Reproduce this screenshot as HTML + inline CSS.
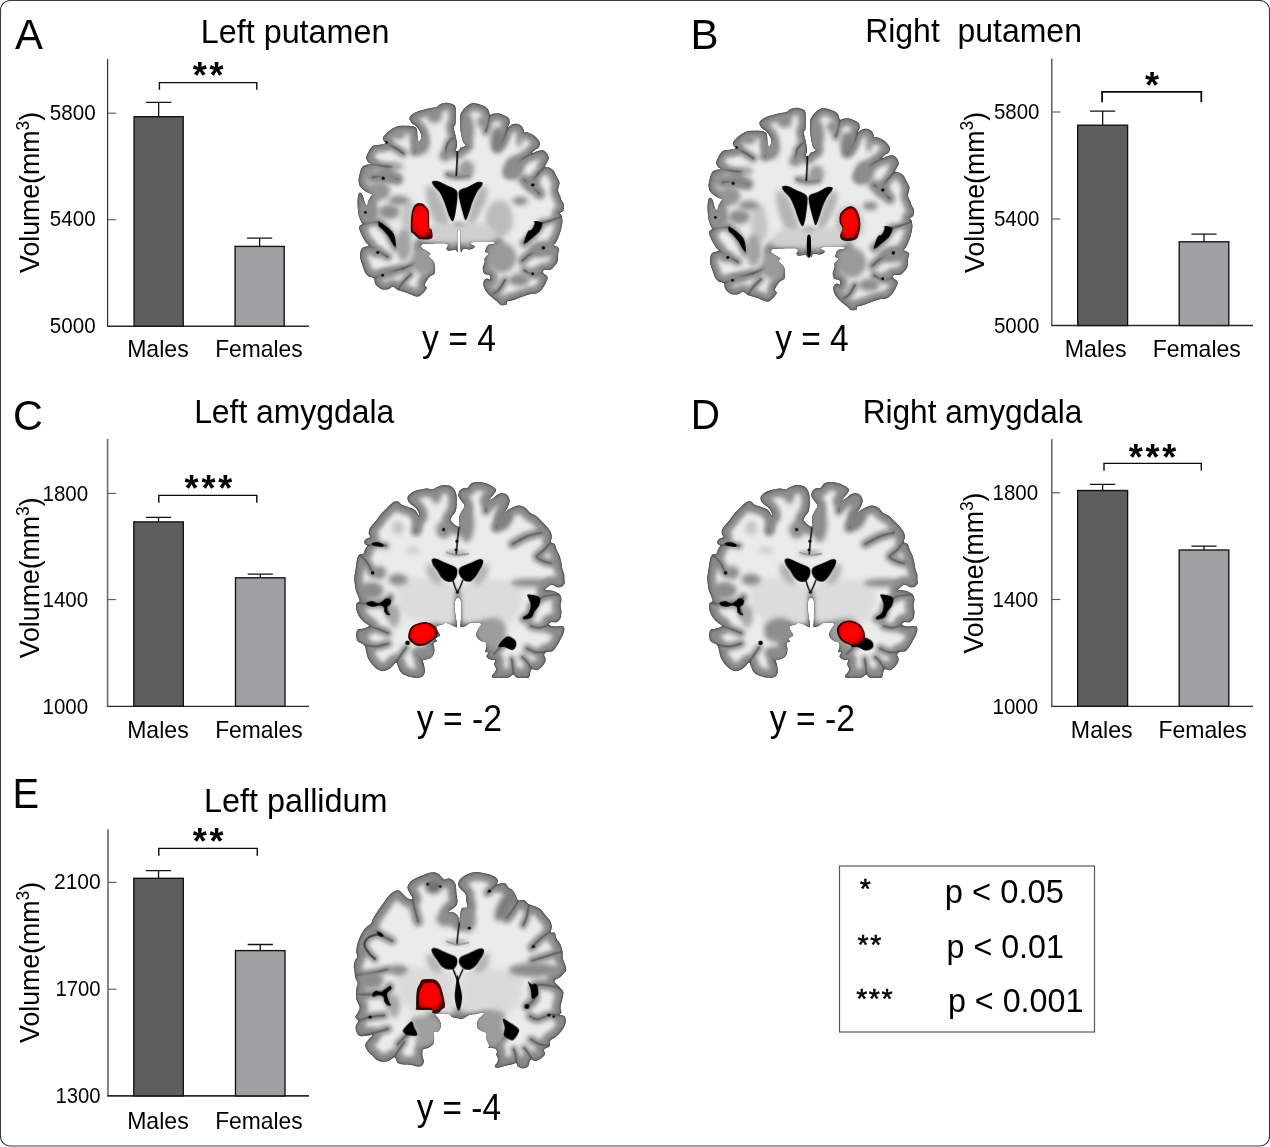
<!DOCTYPE html>
<html><head><meta charset="utf-8"><title>Figure</title>
<style>
html,body{margin:0;padding:0;background:#fff;}
svg{display:block;will-change:transform;}
text{font-family:"Liberation Sans",sans-serif;fill:#000;}
</style></head><body>
<svg width="1270" height="1147" viewBox="0 0 1270 1147">
<rect x="0.5" y="0.5" width="1269" height="1145.5" rx="9.5" ry="9.5" fill="#fff" stroke="#3c3c3c" stroke-width="1.1"/><rect x="10" y="1145.2" width="1251" height="1.8" fill="#9f9f9f"/>
<defs>
<filter id="bl0" x="-10%" y="-10%" width="120%" height="120%"><feGaussianBlur stdDeviation="2.2"/></filter>
<filter id="bl0r" x="-10%" y="-10%" width="120%" height="120%"><feGaussianBlur stdDeviation="3"/></filter>
<filter id="bl1" x="-10%" y="-10%" width="120%" height="120%"><feGaussianBlur stdDeviation="3.5"/></filter>
<filter id="bl2" x="-10%" y="-10%" width="120%" height="120%"><feGaussianBlur stdDeviation="11"/></filter>
<filter id="bl2a" x="-10%" y="-10%" width="120%" height="120%"><feGaussianBlur stdDeviation="6"/></filter>
<filter id="bl3" x="-40%" y="-40%" width="180%" height="180%"><feGaussianBlur stdDeviation="13"/></filter>
<radialGradient id="redg" cx="48%" cy="45%" r="60%"><stop offset="0" stop-color="#ff0000"/><stop offset="0.6" stop-color="#f80000"/><stop offset="0.85" stop-color="#d40000"/><stop offset="1" stop-color="#8a0000"/></radialGradient>
</defs>
<g transform="translate(340 90) scale(0.19185)">
<defs>
<path id="oA" d="M604.0 316.0C602.3 311.0 610.3 299.3 610.0 286.0C609.7 272.7 605.0 251.8 602.0 236.0C599.0 220.2 592.0 201.0 592.0 191.0C592.0 181.0 600.3 192.7 602.0 176.0C603.7 159.3 605.7 108.3 602.0 91.0C598.3 73.7 588.3 76.2 580.0 72.0C571.7 67.8 561.7 65.7 552.0 66.0C542.3 66.3 530.3 70.2 522.0 74.0C513.7 77.8 512.0 85.3 502.0 89.0C492.0 92.7 477.0 92.7 462.0 96.0C447.0 99.3 426.2 104.0 412.0 109.0C397.8 114.0 385.3 119.8 377.0 126.0C368.7 132.2 362.8 138.8 362.0 146.0C361.2 153.2 366.2 161.8 372.0 169.0C377.8 176.2 390.0 182.0 397.0 189.0C404.0 196.0 409.5 203.2 414.0 211.0C418.5 218.8 423.0 227.7 424.0 236.0C425.0 244.3 422.3 255.2 420.0 261.0C417.7 266.8 412.7 273.5 410.0 271.0C407.3 268.5 405.3 255.2 404.0 246.0C402.7 236.8 403.3 224.2 402.0 216.0C400.7 207.8 401.0 201.7 396.0 197.0C391.0 192.3 382.7 189.8 372.0 188.0C361.3 186.2 345.3 185.5 332.0 186.0C318.7 186.5 305.3 186.0 292.0 191.0C278.7 196.0 263.2 206.8 252.0 216.0C240.8 225.2 228.7 237.3 225.0 246.0C221.3 254.7 227.2 263.0 230.0 268.0C232.8 273.0 244.2 273.3 242.0 276.0C239.8 278.7 227.8 281.8 217.0 284.0C206.2 286.2 186.5 285.7 177.0 289.0C167.5 292.3 165.8 296.2 160.0 304.0C154.2 311.8 145.8 327.3 142.0 336.0C138.2 344.7 136.2 349.3 137.0 356.0C137.8 362.7 143.2 371.3 147.0 376.0C150.8 380.7 163.3 381.0 160.0 384.0C156.7 387.0 135.0 389.8 127.0 394.0C119.0 398.2 116.2 401.2 112.0 409.0C107.8 416.8 104.5 429.8 102.0 441.0C99.5 452.2 96.2 465.2 97.0 476.0C97.8 486.8 100.3 496.8 107.0 506.0C113.7 515.2 127.0 524.7 137.0 531.0C147.0 537.3 163.2 539.8 167.0 544.0C170.8 548.2 163.3 549.8 160.0 556.0C156.7 562.2 150.0 573.2 147.0 581.0C144.0 588.8 144.8 601.5 142.0 603.0C139.2 604.5 133.3 597.2 130.0 590.0C126.7 582.8 125.0 568.3 122.0 560.0C119.0 551.7 115.7 543.7 112.0 540.0C108.3 536.3 103.2 534.7 100.0 538.0C96.8 541.3 94.3 549.7 93.0 560.0C91.7 570.3 91.3 585.0 92.0 600.0C92.7 615.0 93.7 635.0 97.0 650.0C100.3 665.0 108.2 682.2 112.0 690.0C115.8 697.8 122.0 693.2 120.0 697.0C118.0 700.8 102.2 705.3 100.0 713.0C97.8 720.7 103.3 733.0 107.0 743.0C110.7 753.0 117.0 763.8 122.0 773.0C127.0 782.2 132.3 791.5 137.0 798.0C141.7 804.5 153.3 807.8 150.0 812.0C146.7 816.2 124.2 817.8 117.0 823.0C109.8 828.2 109.0 834.7 107.0 843.0C105.0 851.3 103.3 861.3 105.0 873.0C106.7 884.7 112.5 899.7 117.0 913.0C121.5 926.3 126.2 943.0 132.0 953.0C137.8 963.0 144.5 968.3 152.0 973.0C159.5 977.7 171.5 974.3 177.0 981.0C182.5 987.7 178.3 1003.5 185.0 1013.0C191.7 1022.5 205.8 1033.8 217.0 1038.0C228.2 1042.2 242.0 1040.0 252.0 1038.0C262.0 1036.0 268.7 1025.2 277.0 1026.0C285.3 1026.8 289.5 1037.7 302.0 1043.0C314.5 1048.3 336.2 1052.5 352.0 1058.0C367.8 1063.5 385.3 1074.3 397.0 1076.0C408.7 1077.7 412.8 1075.2 422.0 1068.0C431.2 1060.8 448.7 1042.2 452.0 1033.0C455.3 1023.8 439.5 1023.0 442.0 1013.0C444.5 1003.0 458.7 982.2 467.0 973.0C475.3 963.8 487.3 966.3 492.0 958.0C496.7 949.7 495.8 933.8 495.0 923.0C494.2 912.2 492.5 902.2 487.0 893.0C481.5 883.8 464.8 874.8 462.0 868.0C459.2 861.2 475.0 858.7 470.0 852.0C465.0 845.3 440.0 834.0 432.0 828.0C424.0 822.0 422.0 820.2 422.0 816.0C422.0 811.8 422.8 805.7 432.0 803.0C441.2 800.3 457.0 800.5 477.0 800.0C497.0 799.5 537.8 797.8 552.0 800.0C566.2 802.2 561.5 808.3 562.0 813.0C562.5 817.7 554.2 823.8 555.0 828.0C555.8 832.2 559.2 837.2 567.0 838.0C574.8 838.8 594.5 831.8 602.0 833.0C609.5 834.2 610.3 852.2 612.0 845.0C613.7 837.8 612.0 807.5 612.0 790.0C612.0 772.5 610.7 750.3 612.0 740.0C613.3 729.7 617.3 728.0 620.0 728.0C622.7 728.0 626.7 729.7 628.0 740.0C629.3 750.3 627.7 772.3 628.0 790.0C628.3 807.7 627.3 839.7 630.0 846.0C632.7 852.3 636.7 830.5 644.0 828.0C651.3 825.5 665.2 831.8 674.0 831.0C682.8 830.2 692.3 826.0 697.0 823.0C701.7 820.0 703.3 815.8 702.0 813.0C700.7 810.2 691.2 809.3 689.0 806.0C686.8 802.7 669.8 795.2 689.0 793.0C708.2 790.8 785.7 791.3 804.0 793.0C822.3 794.7 804.3 800.5 799.0 803.0C793.7 805.5 778.7 803.0 772.0 808.0C765.3 813.0 761.2 826.7 759.0 833.0C756.8 839.3 756.5 842.7 759.0 846.0C761.5 849.3 774.8 847.7 774.0 853.0C773.2 858.3 757.3 870.5 754.0 878.0C750.7 885.5 755.7 889.7 754.0 898.0C752.3 906.3 744.3 918.0 744.0 928.0C743.7 938.0 746.2 951.7 752.0 958.0C757.8 964.3 774.0 961.0 779.0 966.0C784.0 971.0 784.5 985.2 782.0 988.0C779.5 990.8 769.5 981.3 764.0 983.0C758.5 984.7 751.5 991.3 749.0 998.0C746.5 1004.7 746.5 1013.8 749.0 1023.0C751.5 1032.2 756.5 1043.0 764.0 1053.0C771.5 1063.0 784.8 1074.7 794.0 1083.0C803.2 1091.3 811.5 1096.7 819.0 1103.0C826.5 1109.3 830.7 1118.5 839.0 1121.0C847.3 1123.5 863.5 1121.0 869.0 1118.0C874.5 1115.0 865.3 1107.2 872.0 1103.0C878.7 1098.8 896.2 1097.2 909.0 1093.0C921.8 1088.8 934.8 1083.0 949.0 1078.0C963.2 1073.0 981.5 1065.8 994.0 1063.0C1006.5 1060.2 1014.8 1064.3 1024.0 1061.0C1033.2 1057.7 1041.5 1051.0 1049.0 1043.0C1056.5 1035.0 1063.5 1023.0 1069.0 1013.0C1074.5 1003.0 1080.7 990.5 1082.0 983.0C1083.3 975.5 1080.8 973.0 1077.0 968.0C1073.2 963.0 1061.2 958.0 1059.0 953.0C1056.8 948.0 1058.2 940.5 1064.0 938.0C1069.8 935.5 1085.7 940.5 1094.0 938.0C1102.3 935.5 1107.3 930.5 1114.0 923.0C1120.7 915.5 1130.2 904.7 1134.0 893.0C1137.8 881.3 1135.7 863.8 1137.0 853.0C1138.3 842.2 1143.3 834.2 1142.0 828.0C1140.7 821.8 1133.7 819.3 1129.0 816.0C1124.3 812.7 1114.0 812.7 1114.0 808.0C1114.0 803.3 1123.2 799.7 1129.0 788.0C1134.8 776.3 1144.0 754.7 1149.0 738.0C1154.0 721.3 1158.2 702.2 1159.0 688.0C1159.8 673.8 1156.5 660.5 1154.0 653.0C1151.5 645.5 1142.3 647.2 1144.0 643.0C1145.7 638.8 1160.2 635.5 1164.0 628.0C1167.8 620.5 1168.7 607.2 1167.0 598.0C1165.3 588.8 1157.0 580.0 1154.0 573.0C1151.0 566.0 1151.8 563.0 1149.0 556.0C1146.2 549.0 1138.7 539.3 1137.0 531.0C1135.3 522.7 1137.8 514.3 1139.0 506.0C1140.2 497.7 1145.7 490.2 1144.0 481.0C1142.3 471.8 1134.0 461.0 1129.0 451.0C1124.0 441.0 1119.8 428.5 1114.0 421.0C1108.2 413.5 1101.5 409.7 1094.0 406.0C1086.5 402.3 1072.3 402.3 1069.0 399.0C1065.7 395.7 1071.0 392.3 1074.0 386.0C1077.0 379.7 1085.3 368.5 1087.0 361.0C1088.7 353.5 1087.0 347.7 1084.0 341.0C1081.0 334.3 1074.8 325.5 1069.0 321.0C1063.2 316.5 1056.5 314.0 1049.0 314.0C1041.5 314.0 1032.3 318.2 1024.0 321.0C1015.7 323.8 1000.7 332.2 999.0 331.0C997.3 329.8 1008.2 319.0 1014.0 314.0C1019.8 309.0 1029.3 306.5 1034.0 301.0C1038.7 295.5 1042.0 287.7 1042.0 281.0C1042.0 274.3 1039.5 268.5 1034.0 261.0C1028.5 253.5 1018.2 242.7 1009.0 236.0C999.8 229.3 987.3 223.8 979.0 221.0C970.7 218.2 962.7 221.5 959.0 219.0C955.3 216.5 959.5 211.5 957.0 206.0C954.5 200.5 950.3 191.0 944.0 186.0C937.7 181.0 927.3 176.8 919.0 176.0C910.7 175.2 901.5 177.7 894.0 181.0C886.5 184.3 875.7 197.7 874.0 196.0C872.3 194.3 883.2 179.3 884.0 171.0C884.8 162.7 884.0 152.7 879.0 146.0C874.0 139.3 863.2 135.2 854.0 131.0C844.8 126.8 833.2 122.2 824.0 121.0C814.8 119.8 806.0 122.7 799.0 124.0C792.0 125.3 786.2 132.0 782.0 129.0C777.8 126.0 777.8 112.7 774.0 106.0C770.2 99.3 766.5 94.0 759.0 89.0C751.5 84.0 738.2 79.3 729.0 76.0C719.8 72.7 711.5 69.8 704.0 69.0C696.5 68.2 691.5 68.2 684.0 71.0C676.5 73.8 666.8 79.3 659.0 86.0C651.2 92.7 642.3 102.7 637.0 111.0C631.7 119.3 628.7 121.0 627.0 136.0C625.3 151.0 624.8 179.3 627.0 201.0C629.2 222.7 635.3 251.2 640.0 266.0C644.7 280.8 656.7 284.3 655.0 290.0C653.3 295.7 635.8 295.7 630.0 300.0C624.2 304.3 624.3 313.3 620.0 316.0C615.7 318.7 605.7 321.0 604.0 316.0Z"/>
<path id="pA0" d="M410.0 271.0C409.2 275.8 408.3 291.8 405.0 300.0C401.7 308.2 392.5 316.7 390.0 320.0"/>
<path id="pA1" d="M242.0 276.0C249.2 280.0 270.3 291.0 285.0 300.0C299.7 309.0 322.5 325.0 330.0 330.0"/>
<path id="pA2" d="M160.0 384.0C169.2 385.8 196.7 392.3 215.0 395.0C233.3 397.7 260.8 399.2 270.0 400.0"/>
<path id="pA3" d="M170.0 455.0C181.7 454.2 218.3 448.3 240.0 450.0C261.7 451.7 290.0 462.5 300.0 465.0"/>
<path id="pA4" d="M550.0 330.0C551.7 321.7 553.3 293.3 560.0 280.0C566.7 266.7 585.0 255.0 590.0 250.0"/>
<path id="pA5" d="M874.0 196.0C870.0 206.7 859.0 242.7 850.0 260.0C841.0 277.3 825.0 293.3 820.0 300.0"/>
<path id="pA6" d="M999.0 331.0C990.8 335.8 966.5 348.5 950.0 360.0C933.5 371.5 911.7 388.3 900.0 400.0C888.3 411.7 883.3 425.0 880.0 430.0"/>
<path id="pA7" d="M1069.0 399.0C1062.5 405.8 1041.5 426.5 1030.0 440.0C1018.5 453.5 1005.0 473.3 1000.0 480.0"/>
<path id="pA8" d="M960.0 470.0C968.3 476.7 996.7 498.3 1010.0 510.0C1023.3 521.7 1035.0 535.0 1040.0 540.0"/>
<path id="pA9" d="M782.0 129.0C780.0 137.5 773.7 165.7 770.0 180.0C766.3 194.3 761.7 209.2 760.0 215.0"/>
<path id="pA10" d="M150.0 812.0C158.3 816.7 183.3 830.3 200.0 840.0C216.7 849.7 241.7 865.0 250.0 870.0"/>
<path id="pA11" d="M177.0 981.0C189.2 975.8 224.5 958.5 250.0 950.0C275.5 941.5 316.7 933.3 330.0 930.0"/>
<path id="pA12" d="M330.0 930.0 L400.0 900.0"/>
<path id="pA13" d="M1129.0 816.0C1117.5 817.5 1081.5 819.3 1060.0 825.0C1038.5 830.7 1018.3 839.2 1000.0 850.0C981.7 860.8 958.3 883.3 950.0 890.0"/>
<path id="pA14" d="M1059.0 953.0C1049.2 954.2 1016.5 962.2 1000.0 960.0C983.5 957.8 966.7 943.3 960.0 940.0"/>
<path id="pA15" d="M860.0 990.0C855.0 998.3 840.0 1028.3 830.0 1040.0C820.0 1051.7 805.0 1056.7 800.0 1060.0"/>
<path id="pA16" d="M300.0 1043.0C305.0 1035.8 318.3 1013.8 330.0 1000.0C341.7 986.2 363.3 966.7 370.0 960.0"/>
<path id="pA17" d="M560.0 440.0C568.7 442.0 593.7 451.2 612.0 452.0C630.3 452.8 660.3 446.2 670.0 445.0"/>
<path id="pA18" d="M202.0 688.0C210.0 696.7 235.3 718.3 250.0 740.0C264.7 761.7 283.3 805.0 290.0 818.0"/>
<path id="pA19" d="M1054.0 693.0C1046.7 702.5 1025.7 732.5 1010.0 750.0C994.3 767.5 968.3 790.0 960.0 798.0"/>
<path id="pA20" d="M110.0 700.0C118.3 698.3 144.7 692.0 160.0 690.0C175.3 688.0 195.0 688.3 202.0 688.0"/>
<path id="pA21" d="M1154.0 660.0C1145.0 663.3 1116.7 674.5 1100.0 680.0C1083.3 685.5 1061.7 690.8 1054.0 693.0"/>
<g id="sA" fill="none" stroke-linecap="round" stroke-linejoin="round">
<use href="#pA0" stroke-width="52"/>
<use href="#pA1" stroke-width="44"/>
<use href="#pA2" stroke-width="44"/>
<use href="#pA3" stroke-width="60"/>
<use href="#pA4" stroke-width="36"/>
<use href="#pA5" stroke-width="60"/>
<use href="#pA6" stroke-width="68"/>
<use href="#pA7" stroke-width="52"/>
<use href="#pA8" stroke-width="60"/>
<use href="#pA9" stroke-width="44"/>
<use href="#pA10" stroke-width="44"/>
<use href="#pA11" stroke-width="52"/>
<use href="#pA12" stroke-width="40"/>
<use href="#pA13" stroke-width="48"/>
<use href="#pA14" stroke-width="44"/>
<use href="#pA15" stroke-width="40"/>
<use href="#pA16" stroke-width="36"/>
<use href="#pA17" stroke-width="32"/>
<use href="#pA18" stroke-width="48"/>
<use href="#pA19" stroke-width="48"/>
<use href="#pA20" stroke-width="36"/>
<use href="#pA21" stroke-width="36"/>
</g>
<g id="tA" fill="none" stroke-linecap="round" stroke-linejoin="round">
<use href="#pA0"/>
<use href="#pA1"/>
<use href="#pA2"/>
<use href="#pA3"/>
<use href="#pA4"/>
<use href="#pA5"/>
<use href="#pA6"/>
<use href="#pA7"/>
<use href="#pA8"/>
<use href="#pA9"/>
<use href="#pA10"/>
<use href="#pA11"/>
<use href="#pA12"/>
<use href="#pA13"/>
<use href="#pA14"/>
<use href="#pA15"/>
<use href="#pA16"/>
<use href="#pA17"/>
<use href="#pA18"/>
<use href="#pA19"/>
<use href="#pA20"/>
<use href="#pA21"/>
</g>
<mask id="msA" maskUnits="userSpaceOnUse" x="0" y="0" width="1260" height="1160"><use href="#oA" fill="#fff"/></mask>
<mask id="mmA" maskUnits="userSpaceOnUse" x="0" y="0" width="1260" height="1160"><use href="#oA" fill="#fff" stroke="#000" stroke-width="20" stroke-linejoin="round"/></mask>
<mask id="mwA" maskUnits="userSpaceOnUse" x="0" y="0" width="1260" height="1160"><use href="#oA" fill="#fff" stroke="#000" stroke-width="78" stroke-linejoin="round"/><use href="#sA" stroke="#000"/></mask>
</defs>
<g id="coreA">
<g filter="url(#bl1)"><g mask="url(#msA)"><rect width="1260" height="1160" fill="#6c6c6c"/></g></g>
<g filter="url(#bl0)"><use href="#oA" fill="none" stroke="#4a4a4a" stroke-width="7" stroke-linejoin="round" mask="url(#msA)"/></g>
<g filter="url(#bl2a)"><g mask="url(#mmA)"><rect width="1260" height="1160" fill="#8a8a8a"/></g></g>
<g filter="url(#bl2)"><g mask="url(#mwA)"><rect width="1260" height="1160" fill="#ebebeb"/></g></g>
<g mask="url(#msA)">
<use href="#tA" stroke="#505050" stroke-opacity="0.7" stroke-width="10" filter="url(#bl1)"/>
<path d="M455.0 500.0C463.3 495.0 485.8 503.3 500.0 520.0C514.2 536.7 529.2 573.3 540.0 600.0C550.8 626.7 561.7 656.7 565.0 680.0C568.3 703.3 570.8 736.7 560.0 740.0C549.2 743.3 515.8 720.0 500.0 700.0C484.2 680.0 473.3 645.0 465.0 620.0C456.7 595.0 451.7 570.0 450.0 550.0C448.3 530.0 446.7 505.0 455.0 500.0Z" fill="#b4b4b4" filter="url(#bl3)"/>
<path d="M760.0 500.0C753.3 493.3 736.7 505.0 725.0 520.0C713.3 535.0 700.0 563.3 690.0 590.0C680.0 616.7 666.7 658.3 665.0 680.0C663.3 701.7 669.2 726.7 680.0 720.0C690.8 713.3 715.8 666.7 730.0 640.0C744.2 613.3 760.0 583.3 765.0 560.0C770.0 536.7 766.7 506.7 760.0 500.0Z" fill="#b4b4b4" filter="url(#bl3)"/>
<path d="M790.0 590.0C804.2 580.8 833.3 570.0 850.0 575.0C866.7 580.0 881.7 599.2 890.0 620.0C898.3 640.8 905.0 676.7 900.0 700.0C895.0 723.3 876.7 750.0 860.0 760.0C843.3 770.0 816.7 770.0 800.0 760.0C783.3 750.0 765.8 721.7 760.0 700.0C754.2 678.3 760.0 648.3 765.0 630.0C770.0 611.7 775.8 599.2 790.0 590.0Z" fill="#bcbcbc" filter="url(#bl3)"/>
<path d="M330.0 600.0C340.0 580.0 368.3 571.7 380.0 580.0C391.7 588.3 396.7 623.3 400.0 650.0C403.3 676.7 406.7 721.7 400.0 740.0C393.3 758.3 373.3 766.7 360.0 760.0C346.7 753.3 325.0 726.7 320.0 700.0C315.0 673.3 320.0 620.0 330.0 600.0Z" fill="#c4c4c4" filter="url(#bl3)"/>
<path d="M440.0 790.0C386.7 775.0 453.3 715.0 480.0 700.0C506.7 685.0 573.3 700.0 600.0 700.0C626.7 700.0 613.3 700.0 640.0 700.0C666.7 700.0 733.3 685.0 760.0 700.0C786.7 715.0 853.3 775.0 800.0 790.0C746.7 805.0 493.3 805.0 440.0 790.0Z" fill="#cfcfcf" filter="url(#bl3)"/>
<ellipse cx="492" cy="136" rx="40" ry="35" fill="#8c8c8c" filter="url(#bl3)"/>
<ellipse cx="419.5" cy="281" rx="47.5" ry="55" fill="#8c8c8c" filter="url(#bl3)"/>
<ellipse cx="549.5" cy="343.5" rx="32.5" ry="27.5" fill="#8c8c8c" filter="url(#bl3)"/>
<ellipse cx="307" cy="233.5" rx="35" ry="22.5" fill="#8c8c8c" filter="url(#bl3)"/>
<ellipse cx="239.5" cy="283.5" rx="22.5" ry="22.5" fill="#8c8c8c" filter="url(#bl3)"/>
<ellipse cx="297" cy="398.5" rx="30" ry="22.5" fill="#a4a4a4" filter="url(#bl3)"/>
<ellipse cx="174.5" cy="383.5" rx="27.5" ry="12.5" fill="#8c8c8c" filter="url(#bl3)"/>
<ellipse cx="252" cy="458.5" rx="60" ry="22.5" fill="#8c8c8c" filter="url(#bl3)"/>
<ellipse cx="207" cy="526" rx="55" ry="50" fill="#949494" filter="url(#bl3)"/>
<ellipse cx="307" cy="575.5" rx="55" ry="24.5" fill="#8c8c8c" filter="url(#bl3)"/>
<ellipse cx="609.5" cy="441" rx="57.5" ry="15" fill="#9a9a9a" filter="url(#bl3)"/>
<ellipse cx="664" cy="206" rx="35" ry="80" fill="#8c8c8c" filter="url(#bl3)"/>
<ellipse cx="741.5" cy="166" rx="27.5" ry="30" fill="#8c8c8c" filter="url(#bl3)"/>
<ellipse cx="821.5" cy="253.5" rx="37.5" ry="62.5" fill="#808080" filter="url(#bl3)"/>
<ellipse cx="934" cy="261" rx="15" ry="35" fill="#8c8c8c" filter="url(#bl3)"/>
<ellipse cx="909" cy="406" rx="50" ry="60" fill="#8c8c8c" filter="url(#bl3)"/>
<ellipse cx="1001.5" cy="493.5" rx="37.5" ry="37.5" fill="#8c8c8c" filter="url(#bl3)"/>
<ellipse cx="939" cy="578" rx="40" ry="22" fill="#8c8c8c" filter="url(#bl3)"/>
<ellipse cx="659" cy="411" rx="40" ry="45" fill="#9a9a9a" filter="url(#bl3)"/>
<ellipse cx="152" cy="635.5" rx="50" ry="62.5" fill="#8e8e8e" filter="url(#bl3)"/>
<ellipse cx="257" cy="635.5" rx="55" ry="37.5" fill="#8c8c8c" filter="url(#bl3)"/>
<ellipse cx="332" cy="808" rx="40" ry="85" fill="#a2a2a2" filter="url(#bl3)"/>
<ellipse cx="432" cy="888" rx="60" ry="75" fill="#9a9a9a" filter="url(#bl3)"/>
<ellipse cx="184.5" cy="843" rx="32.5" ry="30" fill="#8c8c8c" filter="url(#bl3)"/>
<ellipse cx="234.5" cy="953" rx="57.5" ry="20" fill="#8c8c8c" filter="url(#bl3)"/>
<ellipse cx="841.5" cy="873" rx="77.5" ry="80" fill="#9a9a9a" filter="url(#bl3)"/>
<ellipse cx="1059" cy="830.5" rx="70" ry="42.5" fill="#8c8c8c" filter="url(#bl3)"/>
<ellipse cx="1019" cy="948" rx="30" ry="25" fill="#8c8c8c" filter="url(#bl3)"/>
<ellipse cx="934" cy="990.5" rx="55" ry="32.5" fill="#8c8c8c" filter="url(#bl3)"/>
<path d="M612.0 320.0C611.7 330.0 611.0 358.3 610.0 380.0C609.0 401.7 606.7 438.3 606.0 450.0" fill="none" stroke="#111" stroke-width="9" stroke-linecap="round" stroke-linejoin="round" filter="url(#bl1)"/>
<path d="M555.0 438.0C564.5 440.3 592.5 451.0 612.0 452.0C631.5 453.0 662.0 445.3 672.0 444.0" fill="none" stroke="#888" stroke-width="7" stroke-linecap="round" stroke-linejoin="round" filter="url(#bl1)"/>
<g fill="#000" filter="url(#bl0)">
<path d="M480.0 478.0C483.3 473.5 496.7 471.7 510.0 475.0C523.3 478.3 544.0 490.2 560.0 498.0C576.0 505.8 597.3 511.7 606.0 522.0C614.7 532.3 612.7 540.3 612.0 560.0C611.3 579.7 606.0 619.3 602.0 640.0C598.0 660.7 593.3 680.7 588.0 684.0C582.7 687.3 577.2 675.7 570.0 660.0C562.8 644.3 553.3 610.8 545.0 590.0C536.7 569.2 529.2 549.7 520.0 535.0C510.8 520.3 496.7 511.5 490.0 502.0C483.3 492.5 476.7 482.5 480.0 478.0Z"/>
<path d="M742.0 482.0C738.0 478.7 727.0 476.5 715.0 480.0C703.0 483.5 685.2 496.0 670.0 503.0C654.8 510.0 632.3 512.5 624.0 522.0C615.7 531.5 617.3 540.3 620.0 560.0C622.7 579.7 634.2 620.3 640.0 640.0C645.8 659.7 649.7 678.0 655.0 678.0C660.3 678.0 665.8 656.3 672.0 640.0C678.2 623.7 684.7 598.3 692.0 580.0C699.3 561.7 708.2 543.3 716.0 530.0C723.8 516.7 734.7 508.0 739.0 500.0C743.3 492.0 746.0 485.3 742.0 482.0Z"/>
<path d="M202.0 688.0C206.2 686.7 215.3 691.7 227.0 700.0C238.7 708.3 262.0 725.8 272.0 738.0C282.0 750.2 284.0 759.7 287.0 773.0C290.0 786.3 292.5 813.8 290.0 818.0C287.5 822.2 278.3 807.2 272.0 798.0C265.7 788.8 260.3 774.7 252.0 763.0C243.7 751.3 230.3 737.2 222.0 728.0C213.7 718.8 205.3 714.7 202.0 708.0C198.7 701.3 197.8 689.3 202.0 688.0Z"/>
<path d="M1014.0 683.0C1020.7 682.2 1049.8 683.8 1054.0 693.0C1058.2 702.2 1048.2 724.7 1039.0 738.0C1029.8 751.3 1010.7 763.0 999.0 773.0C987.3 783.0 975.7 794.7 969.0 798.0C962.3 801.3 957.3 803.0 959.0 793.0C960.7 783.0 972.3 748.8 979.0 738.0C985.7 727.2 993.2 734.7 999.0 728.0C1004.8 721.3 1011.5 705.5 1014.0 698.0C1016.5 690.5 1007.3 683.8 1014.0 683.0Z"/>
</g>
<g fill="#000" filter="url(#bl1)">
<circle cx="242" cy="274" r="7"/>
<circle cx="132" cy="638" r="7"/>
<circle cx="197" cy="846" r="8"/>
<circle cx="222" cy="966" r="7"/>
<circle cx="1004" cy="958" r="7"/>
<circle cx="1060" cy="823" r="9"/>
<circle cx="1005" cy="495" r="9"/>
<circle cx="225" cy="460" r="8"/>
</g>
</g>
</g>
<path d="M402.0 591.0C410.0 588.5 423.7 589.3 432.0 593.0C440.3 596.7 446.7 605.5 452.0 613.0C457.3 620.5 461.7 620.5 464.0 638.0C466.3 655.5 463.8 703.3 466.0 718.0C468.2 732.7 474.8 716.8 477.0 726.0C479.2 735.2 488.2 764.3 479.0 773.0C469.8 781.7 435.7 779.7 422.0 778.0C408.3 776.3 403.7 768.0 397.0 763.0C390.3 758.0 386.5 753.0 382.0 748.0C377.5 743.0 371.7 748.8 370.0 733.0C368.3 717.2 369.7 673.8 372.0 653.0C374.3 632.2 379.0 618.3 384.0 608.0C389.0 597.7 394.0 593.5 402.0 591.0Z" fill="#3a0000" filter="url(#bl0)"/>
<path d="M404.9 604.5C411.8 602.3 423.6 603.0 430.7 606.2C437.9 609.4 443.4 617.0 447.9 623.4C452.5 629.9 456.3 629.9 458.3 644.9C460.3 660.0 458.1 701.1 460.0 713.7C461.8 726.3 467.6 712.7 469.4 720.6C471.3 728.5 479.0 753.5 471.2 761.0C463.3 768.5 433.9 766.7 422.1 765.3C410.4 763.9 406.4 756.7 400.6 752.4C394.9 748.1 391.6 743.8 387.7 739.5C383.9 735.2 378.9 740.2 377.4 726.6C376.0 713.0 377.1 675.7 379.1 657.8C381.1 639.9 385.2 628.0 389.5 619.1C393.8 610.2 398.1 606.6 404.9 604.5Z" fill="url(#redg)" filter="url(#bl0r)"/>
</g>
<g transform="translate(690 95) scale(0.19185)">
<use href="#coreA"/>
<g fill="#000" filter="url(#bl0)">
<path d="M611.0 740.0C612.8 728.0 617.0 728.0 620.0 728.0C623.0 728.0 627.2 728.0 629.0 740.0C630.8 752.0 631.3 783.3 631.0 800.0C630.7 816.7 628.8 832.0 627.0 840.0C625.2 848.0 622.3 848.0 620.0 848.0C617.7 848.0 614.8 848.0 613.0 840.0C611.2 832.0 609.3 816.7 609.0 800.0C608.7 783.3 609.2 752.0 611.0 740.0Z"/>
</g>
<path d="M800.0 599.0C808.0 591.8 820.0 582.7 830.0 581.0C840.0 579.3 851.7 581.8 860.0 589.0C868.3 596.2 875.3 609.8 880.0 624.0C884.7 638.2 888.0 657.3 888.0 674.0C888.0 690.7 884.7 710.7 880.0 724.0C875.3 737.3 873.3 748.2 860.0 754.0C846.7 759.8 813.0 762.3 800.0 759.0C787.0 755.7 782.8 744.8 782.0 734.0C781.2 723.2 795.3 705.7 795.0 694.0C794.7 682.3 782.2 675.7 780.0 664.0C777.8 652.3 778.7 634.8 782.0 624.0C785.3 613.2 792.0 606.2 800.0 599.0Z" fill="#3a0000" filter="url(#bl0)"/>
<path d="M803.9 608.7C810.8 602.5 821.1 594.7 829.7 593.2C838.3 591.8 848.4 593.9 855.5 600.1C862.7 606.3 868.7 618.0 872.7 630.2C876.7 642.4 879.6 658.9 879.6 673.2C879.6 687.5 876.7 704.7 872.7 716.2C868.7 727.7 867.0 737.0 855.5 742.0C844.1 747.0 815.1 749.2 803.9 746.3C792.8 743.4 789.2 734.1 788.5 724.8C787.7 715.5 799.9 700.4 799.6 690.4C799.3 680.4 788.6 674.6 786.7 664.6C784.9 654.6 785.6 639.5 788.5 630.2C791.3 620.9 797.1 614.9 803.9 608.7Z" fill="url(#redg)" filter="url(#bl0r)"/>
</g>
<g transform="translate(340 470) scale(0.19185)">
<defs>
<path id="oC" d="M620.0 296.0C612.5 298.7 580.0 274.3 577.0 261.0C574.0 247.7 596.8 230.2 602.0 216.0C607.2 201.8 607.3 191.0 608.0 176.0C608.7 161.0 608.7 139.3 606.0 126.0C603.3 112.7 598.5 103.5 592.0 96.0C585.5 88.5 577.0 83.8 567.0 81.0C557.0 78.2 542.8 77.3 532.0 79.0C521.2 80.7 510.3 87.3 502.0 91.0C493.7 94.7 490.3 100.2 482.0 101.0C473.7 101.8 465.3 95.2 452.0 96.0C438.7 96.8 416.2 101.3 402.0 106.0C387.8 110.7 375.3 117.3 367.0 124.0C358.7 130.7 352.8 138.2 352.0 146.0C351.2 153.8 355.3 162.7 362.0 171.0C368.7 179.3 384.0 187.7 392.0 196.0C400.0 204.3 406.7 213.8 410.0 221.0C413.3 228.2 413.3 238.5 412.0 239.0C410.7 239.5 406.2 229.5 402.0 224.0C397.8 218.5 395.3 211.5 387.0 206.0C378.7 200.5 362.8 195.2 352.0 191.0C341.2 186.8 330.3 185.5 322.0 181.0C313.7 176.5 308.7 166.5 302.0 164.0C295.3 161.5 290.3 161.5 282.0 166.0C273.7 170.5 262.8 181.0 252.0 191.0C241.2 201.0 227.8 213.5 217.0 226.0C206.2 238.5 197.0 253.5 187.0 266.0C177.0 278.5 163.2 290.2 157.0 301.0C150.8 311.8 149.5 322.7 150.0 331.0C150.5 339.3 161.3 346.8 160.0 351.0C158.7 355.2 147.5 352.7 142.0 356.0C136.5 359.3 129.0 366.0 127.0 371.0C125.0 376.0 127.5 382.2 130.0 386.0C132.5 389.8 141.7 389.8 142.0 394.0C142.3 398.2 135.3 404.0 132.0 411.0C128.7 418.0 127.0 431.0 122.0 436.0C117.0 441.0 107.3 436.8 102.0 441.0C96.7 445.2 92.8 452.7 90.0 461.0C87.2 469.3 86.7 480.2 85.0 491.0C83.3 501.8 81.7 515.2 80.0 526.0C78.3 536.8 75.8 548.2 75.0 556.0C74.2 563.8 73.8 561.8 75.0 573.0C76.2 584.2 78.3 608.0 82.0 623.0C85.7 638.0 93.7 653.0 97.0 663.0C100.3 673.0 104.0 677.2 102.0 683.0C100.0 688.8 87.5 689.7 85.0 698.0C82.5 706.3 83.3 720.5 87.0 733.0C90.7 745.5 99.5 762.2 107.0 773.0C114.5 783.8 124.5 791.3 132.0 798.0C139.5 804.7 154.5 808.0 152.0 813.0C149.5 818.0 127.0 824.7 117.0 828.0C107.0 831.3 97.3 828.0 92.0 833.0C86.7 838.0 85.0 848.0 85.0 858.0C85.0 868.0 85.0 883.8 92.0 893.0C99.0 902.2 119.5 903.8 127.0 913.0C134.5 922.2 133.7 936.3 137.0 948.0C140.3 959.7 141.2 971.3 147.0 983.0C152.8 994.7 162.8 1008.0 172.0 1018.0C181.2 1028.0 192.8 1038.0 202.0 1043.0C211.2 1048.0 217.0 1049.7 227.0 1048.0C237.0 1046.3 251.2 1040.5 262.0 1033.0C272.8 1025.5 285.3 1004.7 292.0 1003.0C298.7 1001.3 297.8 1014.7 302.0 1023.0C306.2 1031.3 309.5 1044.7 317.0 1053.0C324.5 1061.3 334.5 1068.0 347.0 1073.0C359.5 1078.0 378.7 1082.2 392.0 1083.0C405.3 1083.8 418.7 1083.0 427.0 1078.0C435.3 1073.0 440.3 1063.8 442.0 1053.0C443.7 1042.2 438.7 1023.0 437.0 1013.0C435.3 1003.0 427.0 998.0 432.0 993.0C437.0 988.0 457.8 988.0 467.0 983.0C476.2 978.0 482.8 971.3 487.0 963.0C491.2 954.7 492.0 943.0 492.0 933.0C492.0 923.0 484.5 909.7 487.0 903.0C489.5 896.3 505.3 897.2 507.0 893.0C508.7 888.8 494.5 883.0 497.0 878.0C499.5 873.0 519.5 868.8 522.0 863.0C524.5 857.2 515.3 850.5 512.0 843.0C508.7 835.5 500.3 823.8 502.0 818.0C503.7 812.2 517.0 809.7 522.0 808.0C527.0 806.3 527.8 809.7 532.0 808.0C536.2 806.3 540.3 798.8 547.0 798.0C553.7 797.2 564.5 800.5 572.0 803.0C579.5 805.5 585.7 810.8 592.0 813.0C598.3 815.2 608.2 824.3 610.0 816.0C611.8 807.7 605.2 780.2 603.0 763.0C600.8 745.8 597.0 727.7 597.0 713.0C597.0 698.3 599.7 682.8 603.0 675.0C606.3 667.2 612.5 664.7 617.0 666.0C621.5 667.3 627.5 669.3 630.0 683.0C632.5 696.7 632.3 726.3 632.0 748.0C631.7 769.7 628.0 801.3 628.0 813.0C628.0 824.7 627.7 818.0 632.0 818.0C636.3 818.0 646.2 816.3 654.0 813.0C661.8 809.7 669.8 800.8 679.0 798.0C688.2 795.2 699.0 795.5 709.0 796.0C719.0 796.5 736.5 796.5 739.0 801.0C741.5 805.5 728.5 815.2 724.0 823.0C719.5 830.8 713.7 839.7 712.0 848.0C710.3 856.3 709.5 865.5 714.0 873.0C718.5 880.5 731.5 888.8 739.0 893.0C746.5 897.2 754.8 893.0 759.0 898.0C763.2 903.0 764.3 914.7 764.0 923.0C763.7 931.3 755.7 943.0 757.0 948.0C758.3 953.0 770.8 948.8 772.0 953.0C773.2 957.2 762.0 967.2 764.0 973.0C766.0 978.8 776.5 985.0 784.0 988.0C791.5 991.0 805.7 986.8 809.0 991.0C812.3 995.2 803.2 1005.2 804.0 1013.0C804.8 1020.8 814.0 1030.5 814.0 1038.0C814.0 1045.5 807.7 1052.2 804.0 1058.0C800.3 1063.8 792.8 1068.8 792.0 1073.0C791.2 1077.2 791.2 1081.3 799.0 1083.0C806.8 1084.7 825.7 1083.3 839.0 1083.0C852.3 1082.7 868.2 1083.8 879.0 1081.0C889.8 1078.2 897.3 1066.0 904.0 1066.0C910.7 1066.0 911.5 1078.2 919.0 1081.0C926.5 1083.8 938.2 1083.0 949.0 1083.0C959.8 1083.0 976.8 1086.0 984.0 1081.0C991.2 1076.0 989.5 1060.2 992.0 1053.0C994.5 1045.8 992.8 1039.7 999.0 1038.0C1005.2 1036.3 1019.0 1046.3 1029.0 1043.0C1039.0 1039.7 1051.8 1027.2 1059.0 1018.0C1066.2 1008.8 1071.2 997.2 1072.0 988.0C1072.8 978.8 1062.8 969.7 1064.0 963.0C1065.2 956.3 1071.5 951.3 1079.0 948.0C1086.5 944.7 1100.7 948.0 1109.0 943.0C1117.3 938.0 1122.3 928.0 1129.0 918.0C1135.7 908.0 1143.2 893.8 1149.0 883.0C1154.8 872.2 1160.7 863.0 1164.0 853.0C1167.3 843.0 1170.7 829.7 1169.0 823.0C1167.3 816.3 1162.3 814.2 1154.0 813.0C1145.7 811.8 1129.8 816.8 1119.0 816.0C1108.2 815.2 1092.3 811.8 1089.0 808.0C1085.7 804.2 1092.3 795.5 1099.0 793.0C1105.7 790.5 1120.7 796.3 1129.0 793.0C1137.3 789.7 1144.8 782.2 1149.0 773.0C1153.2 763.8 1154.0 748.8 1154.0 738.0C1154.0 727.2 1149.0 718.8 1149.0 708.0C1149.0 697.2 1154.8 683.0 1154.0 673.0C1153.2 663.0 1149.8 654.7 1144.0 648.0C1138.2 641.3 1127.3 636.3 1119.0 633.0C1110.7 629.7 1102.3 629.2 1094.0 628.0C1085.7 626.8 1071.5 628.5 1069.0 626.0C1066.5 623.5 1073.2 617.7 1079.0 613.0C1084.8 608.3 1094.8 598.3 1104.0 598.0C1113.2 597.7 1124.8 609.7 1134.0 611.0C1143.2 612.3 1152.7 609.8 1159.0 606.0C1165.3 602.2 1170.3 593.5 1172.0 588.0C1173.7 582.5 1169.5 580.0 1169.0 573.0C1168.5 566.0 1170.7 555.5 1169.0 546.0C1167.3 536.5 1161.5 526.0 1159.0 516.0C1156.5 506.0 1156.5 497.7 1154.0 486.0C1151.5 474.3 1148.2 457.7 1144.0 446.0C1139.8 434.3 1133.2 426.0 1129.0 416.0C1124.8 406.0 1124.0 392.7 1119.0 386.0C1114.0 379.3 1101.5 381.8 1099.0 376.0C1096.5 370.2 1104.0 359.3 1104.0 351.0C1104.0 342.7 1103.2 335.2 1099.0 326.0C1094.8 316.8 1086.5 305.2 1079.0 296.0C1071.5 286.8 1063.2 280.2 1054.0 271.0C1044.8 261.8 1034.0 248.5 1024.0 241.0C1014.0 233.5 1003.2 233.0 994.0 226.0C984.8 219.0 978.2 205.7 969.0 199.0C959.8 192.3 949.0 187.3 939.0 186.0C929.0 184.7 919.0 187.7 909.0 191.0C899.0 194.3 888.2 199.3 879.0 206.0C869.8 212.7 856.5 230.2 854.0 231.0C851.5 231.8 859.8 219.3 864.0 211.0C868.2 202.7 875.7 190.2 879.0 181.0C882.3 171.8 885.2 164.3 884.0 156.0C882.8 147.7 877.8 136.8 872.0 131.0C866.2 125.2 857.0 121.8 849.0 121.0C841.0 120.2 832.3 121.8 824.0 126.0C815.7 130.2 807.3 140.2 799.0 146.0C790.7 151.8 775.7 161.8 774.0 161.0C772.3 160.2 782.7 149.3 789.0 141.0C795.3 132.7 808.7 118.5 812.0 111.0C815.3 103.5 813.7 101.3 809.0 96.0C804.3 90.7 794.0 84.0 784.0 79.0C774.0 74.0 761.5 68.5 749.0 66.0C736.5 63.5 719.8 63.2 709.0 64.0C698.2 64.8 691.5 66.0 684.0 71.0C676.5 76.0 671.5 89.8 664.0 94.0C656.5 98.2 646.0 93.2 639.0 96.0C632.0 98.8 625.7 104.3 622.0 111.0C618.3 117.7 615.8 128.5 617.0 136.0C618.2 143.5 623.7 147.7 629.0 156.0C634.3 164.3 648.2 176.0 649.0 186.0C649.8 196.0 638.5 206.2 634.0 216.0C629.5 225.8 624.3 231.7 622.0 245.0C619.7 258.3 627.5 293.3 620.0 296.0Z"/>
<path id="pC0" d="M412.0 239.0C410.8 245.8 407.8 266.5 405.0 280.0C402.2 293.5 396.7 313.3 395.0 320.0"/>
<path id="pC1" d="M142.0 394.0C150.0 393.0 173.7 387.8 190.0 388.0C206.3 388.2 231.7 393.8 240.0 395.0"/>
<path id="pC2" d="M102.0 441.0C108.3 447.5 128.7 464.2 140.0 480.0C151.3 495.8 165.0 526.7 170.0 536.0"/>
<path id="pC3" d="M774.0 161.0C772.5 165.8 767.3 181.0 765.0 190.0C762.7 199.0 760.8 210.8 760.0 215.0"/>
<path id="pC4" d="M854.0 231.0C850.8 237.5 841.5 258.5 835.0 270.0C828.5 281.5 818.3 295.0 815.0 300.0"/>
<path id="pC5" d="M1049.0 326.0C1036.5 329.3 999.0 336.0 974.0 346.0C949.0 356.0 911.5 379.3 899.0 386.0"/>
<path id="pC6" d="M1099.0 376.0C1092.5 383.3 1072.5 407.5 1060.0 420.0C1047.5 432.5 1024.0 441.8 1024.0 451.0C1024.0 460.2 1047.3 469.2 1060.0 475.0C1072.7 480.8 1093.3 484.2 1100.0 486.0"/>
<path id="pC7" d="M152.0 813.0C160.0 815.8 183.7 823.8 200.0 830.0C216.3 836.2 241.7 846.7 250.0 850.0"/>
<path id="pC8" d="M127.0 913.0C137.5 914.2 169.5 921.3 190.0 920.0C210.5 918.7 240.0 907.5 250.0 905.0"/>
<path id="pC9" d="M292.0 1003.0C296.7 995.8 311.2 973.0 320.0 960.0C328.8 947.0 340.8 930.8 345.0 925.0"/>
<path id="pC10" d="M1089.0 808.0C1080.8 810.3 1055.8 821.2 1040.0 822.0C1024.2 822.8 1001.7 814.5 994.0 813.0"/>
<path id="pC11" d="M1079.0 948.0C1069.2 948.3 1037.3 953.0 1020.0 950.0C1002.7 947.0 982.5 933.3 975.0 930.0"/>
<path id="pC12" d="M904.0 1066.0C903.3 1058.3 901.5 1033.5 900.0 1020.0C898.5 1006.5 895.8 990.8 895.0 985.0"/>
<path id="pC13" d="M999.0 1038.0C995.0 1031.7 983.2 1010.5 975.0 1000.0C966.8 989.5 954.2 979.2 950.0 975.0"/>
<path id="pC14" d="M437.0 1013.0C434.2 1008.3 426.2 993.8 420.0 985.0C413.8 976.2 403.3 964.2 400.0 960.0"/>
<path id="pC15" d="M100.0 695.0C111.7 695.5 147.5 698.8 170.0 698.0C192.5 697.2 219.7 695.5 235.0 690.0C250.3 684.5 257.5 669.2 262.0 665.0"/>
<path id="pC16" d="M235.0 690.0C237.5 696.7 245.5 719.0 250.0 730.0C254.5 741.0 260.0 751.7 262.0 756.0"/>
<path id="pC17" d="M1144.0 648.0C1130.0 650.0 1082.3 651.3 1060.0 660.0C1037.7 668.7 1021.7 683.3 1010.0 700.0C998.3 716.7 998.3 747.5 990.0 760.0C981.7 772.5 965.0 772.5 960.0 775.0"/>
<path id="pC18" d="M870.0 890.0C865.0 895.0 851.7 908.3 840.0 920.0C828.3 931.7 806.7 953.3 800.0 960.0"/>
<g id="sC" fill="none" stroke-linecap="round" stroke-linejoin="round">
<use href="#pC0" stroke-width="48"/>
<use href="#pC1" stroke-width="36"/>
<use href="#pC2" stroke-width="48"/>
<use href="#pC3" stroke-width="44"/>
<use href="#pC4" stroke-width="56"/>
<use href="#pC5" stroke-width="48"/>
<use href="#pC6" stroke-width="44"/>
<use href="#pC7" stroke-width="44"/>
<use href="#pC8" stroke-width="44"/>
<use href="#pC9" stroke-width="36"/>
<use href="#pC10" stroke-width="44"/>
<use href="#pC11" stroke-width="44"/>
<use href="#pC12" stroke-width="36"/>
<use href="#pC13" stroke-width="36"/>
<use href="#pC14" stroke-width="32"/>
<use href="#pC15" stroke-width="48"/>
<use href="#pC16" stroke-width="44"/>
<use href="#pC17" stroke-width="52"/>
<use href="#pC18" stroke-width="40"/>
</g>
<g id="tC" fill="none" stroke-linecap="round" stroke-linejoin="round">
<use href="#pC0"/>
<use href="#pC1"/>
<use href="#pC2"/>
<use href="#pC3"/>
<use href="#pC4"/>
<use href="#pC5"/>
<use href="#pC6"/>
<use href="#pC7"/>
<use href="#pC8"/>
<use href="#pC9"/>
<use href="#pC10"/>
<use href="#pC11"/>
<use href="#pC12"/>
<use href="#pC13"/>
<use href="#pC14"/>
<use href="#pC15"/>
<use href="#pC16"/>
<use href="#pC17"/>
<use href="#pC18"/>
</g>
<mask id="msC" maskUnits="userSpaceOnUse" x="0" y="0" width="1260" height="1160"><use href="#oC" fill="#fff"/></mask>
<mask id="mmC" maskUnits="userSpaceOnUse" x="0" y="0" width="1260" height="1160"><use href="#oC" fill="#fff" stroke="#000" stroke-width="20" stroke-linejoin="round"/></mask>
<mask id="mwC" maskUnits="userSpaceOnUse" x="0" y="0" width="1260" height="1160"><use href="#oC" fill="#fff" stroke="#000" stroke-width="88" stroke-linejoin="round"/><use href="#sC" stroke="#000"/></mask>
</defs>
<g id="coreC">
<g filter="url(#bl1)"><g mask="url(#msC)"><rect width="1260" height="1160" fill="#6c6c6c"/></g></g>
<g filter="url(#bl0)"><use href="#oC" fill="none" stroke="#4a4a4a" stroke-width="7" stroke-linejoin="round" mask="url(#msC)"/></g>
<g filter="url(#bl2a)"><g mask="url(#mmC)"><rect width="1260" height="1160" fill="#8a8a8a"/></g></g>
<g filter="url(#bl2)"><g mask="url(#mwC)"><rect width="1260" height="1160" fill="#ebebeb"/></g></g>
<g mask="url(#msC)">
<use href="#tC" stroke="#505050" stroke-opacity="0.7" stroke-width="10" filter="url(#bl1)"/>
<path d="M302.0 573.0C318.7 558.0 367.0 559.7 400.0 560.0C433.0 560.3 468.0 568.3 500.0 575.0C532.0 581.7 575.3 579.2 592.0 600.0C608.7 620.8 600.3 667.0 600.0 700.0C599.7 733.0 606.7 781.3 590.0 798.0C573.3 814.7 531.7 801.3 500.0 800.0C468.3 798.7 430.0 800.0 400.0 790.0C370.0 780.0 336.7 763.3 320.0 740.0C303.3 716.7 303.0 677.8 300.0 650.0C297.0 622.2 285.3 588.0 302.0 573.0Z" fill="#dcdcdc" filter="url(#bl3)"/>
<path d="M640.0 600.0C659.7 578.3 715.0 574.2 750.0 570.0C785.0 565.8 818.3 570.0 850.0 575.0C881.7 580.0 924.2 579.2 940.0 600.0C955.8 620.8 951.7 669.5 945.0 700.0C938.3 730.5 924.2 768.0 900.0 783.0C875.8 798.0 833.3 788.0 800.0 790.0C766.7 792.0 726.7 795.0 700.0 795.0C673.3 795.0 651.3 805.8 640.0 790.0C628.7 774.2 632.0 731.7 632.0 700.0C632.0 668.3 620.3 621.7 640.0 600.0Z" fill="#dcdcdc" filter="url(#bl3)"/>
<path d="M455.0 490.0C462.5 485.0 487.5 496.7 500.0 510.0C512.5 523.3 526.7 555.0 530.0 570.0C533.3 585.0 528.3 598.3 520.0 600.0C511.7 601.7 490.8 590.0 480.0 580.0C469.2 570.0 459.2 555.0 455.0 540.0C450.8 525.0 447.5 495.0 455.0 490.0Z" fill="#b4b4b4" filter="url(#bl3)"/>
<path d="M770.0 490.0C762.5 485.0 737.5 496.7 725.0 510.0C712.5 523.3 698.3 555.0 695.0 570.0C691.7 585.0 696.7 598.3 705.0 600.0C713.3 601.7 734.2 590.0 745.0 580.0C755.8 570.0 765.8 555.0 770.0 540.0C774.2 525.0 777.5 495.0 770.0 490.0Z" fill="#b4b4b4" filter="url(#bl3)"/>
<path d="M714.0 800.0C728.3 786.7 775.8 770.0 800.0 770.0C824.2 770.0 849.0 781.7 859.0 800.0C869.0 818.3 866.5 859.5 860.0 880.0C853.5 900.5 840.0 919.7 820.0 923.0C800.0 926.3 757.7 912.2 740.0 900.0C722.3 887.8 718.3 866.7 714.0 850.0C709.7 833.3 699.7 813.3 714.0 800.0Z" fill="#9c9c9c" filter="url(#bl3)"/>
<ellipse cx="502" cy="138.5" rx="25" ry="37.5" fill="#8c8c8c" filter="url(#bl3)"/>
<ellipse cx="404.5" cy="281" rx="22.5" ry="55" fill="#8c8c8c" filter="url(#bl3)"/>
<ellipse cx="542" cy="311" rx="40" ry="45" fill="#8c8c8c" filter="url(#bl3)"/>
<ellipse cx="302" cy="301" rx="30" ry="35" fill="#c4c4c4" filter="url(#bl3)"/>
<ellipse cx="302" cy="570.5" rx="50" ry="29.5" fill="#8c8c8c" filter="url(#bl3)"/>
<ellipse cx="609.5" cy="433.5" rx="57.5" ry="12.5" fill="#9a9a9a" filter="url(#bl3)"/>
<ellipse cx="659" cy="276" rx="40" ry="100" fill="#8c8c8c" filter="url(#bl3)"/>
<ellipse cx="774" cy="176" rx="25" ry="35" fill="#8c8c8c" filter="url(#bl3)"/>
<ellipse cx="849" cy="261" rx="45" ry="55" fill="#808080" transform="rotate(30 849 261)" filter="url(#bl3)"/>
<ellipse cx="994" cy="588" rx="105" ry="22" fill="#8c8c8c" filter="url(#bl3)"/>
<ellipse cx="164.5" cy="628" rx="62.5" ry="45" fill="#8c8c8c" filter="url(#bl3)"/>
<ellipse cx="282" cy="760.5" rx="30" ry="62.5" fill="#a8a8a8" filter="url(#bl3)"/>
<ellipse cx="432" cy="950.5" rx="60" ry="32.5" fill="#8c8c8c" filter="url(#bl3)"/>
<ellipse cx="205" cy="535" rx="35" ry="35" fill="#8c8c8c" filter="url(#bl3)"/>
<ellipse cx="380" cy="420" rx="40" ry="20" fill="#d0d0d0" filter="url(#bl3)"/>
<path d="M620.0 300.0C618.7 311.7 614.3 346.7 612.0 370.0C609.7 393.3 607.0 428.3 606.0 440.0" fill="none" stroke="#222" stroke-width="9" stroke-linecap="round" stroke-linejoin="round" filter="url(#bl1)"/>
<path d="M555.0 430.0C564.5 432.3 592.8 443.0 612.0 444.0C631.2 445.0 660.3 437.3 670.0 436.0" fill="none" stroke="#888" stroke-width="7" stroke-linecap="round" stroke-linejoin="round" filter="url(#bl1)"/>
<path d="M588.0 575.0C592.0 584.5 603.3 632.0 612.0 632.0C620.7 632.0 635.3 584.5 640.0 575.0" fill="none" stroke="#111" stroke-width="8" stroke-linecap="round" stroke-linejoin="round" filter="url(#bl1)"/>
<g fill="#000" filter="url(#bl0)">
<path d="M478.0 468.0C480.5 462.5 486.3 458.7 500.0 462.0C513.7 465.3 542.3 480.0 560.0 488.0C577.7 496.0 597.7 500.5 606.0 510.0C614.3 519.5 612.3 534.0 610.0 545.0C607.7 556.0 600.3 569.8 592.0 576.0C583.7 582.2 570.3 584.3 560.0 582.0C549.7 579.7 539.2 572.0 530.0 562.0C520.8 552.0 512.5 533.2 505.0 522.0C497.5 510.8 489.5 504.0 485.0 495.0C480.5 486.0 475.5 473.5 478.0 468.0Z"/>
<path d="M745.0 470.0C741.7 465.0 734.5 462.0 722.0 465.0C709.5 468.0 686.3 480.5 670.0 488.0C653.7 495.5 632.0 500.5 624.0 510.0C616.0 519.5 618.0 534.0 622.0 545.0C626.0 556.0 638.3 570.2 648.0 576.0C657.7 581.8 670.3 583.3 680.0 580.0C689.7 576.7 698.0 566.0 706.0 556.0C714.0 546.0 722.0 530.2 728.0 520.0C734.0 509.8 739.2 503.3 742.0 495.0C744.8 486.7 748.3 475.0 745.0 470.0Z"/>
<path d="M140.0 690.0C144.2 686.3 160.0 682.2 170.0 683.0C180.0 683.8 190.8 695.5 200.0 695.0C209.2 694.5 217.5 684.5 225.0 680.0C232.5 675.5 238.3 668.3 245.0 668.0C251.7 667.7 262.2 672.7 265.0 678.0C267.8 683.3 265.3 693.8 262.0 700.0C258.7 706.2 247.0 708.3 245.0 715.0C243.0 721.7 247.2 733.8 250.0 740.0C252.8 746.2 262.0 749.3 262.0 752.0C262.0 754.7 255.0 758.0 250.0 756.0C245.0 754.0 235.7 746.8 232.0 740.0C228.3 733.2 232.5 720.8 228.0 715.0C223.5 709.2 213.8 705.5 205.0 705.0C196.2 704.5 185.0 712.0 175.0 712.0C165.0 712.0 150.8 708.7 145.0 705.0C139.2 701.3 135.8 693.7 140.0 690.0Z"/>
<path d="M979.0 648.0C988.2 646.3 1029.0 653.8 1039.0 663.0C1049.0 672.2 1043.2 690.5 1039.0 703.0C1034.8 715.5 1020.7 727.2 1014.0 738.0C1007.3 748.8 1007.3 761.3 999.0 768.0C990.7 774.7 971.5 778.0 964.0 778.0C956.5 778.0 950.7 773.8 954.0 768.0C957.3 762.2 977.3 753.8 984.0 743.0C990.7 732.2 994.0 714.7 994.0 703.0C994.0 691.3 986.5 682.2 984.0 673.0C981.5 663.8 969.8 649.7 979.0 648.0Z"/>
<path d="M824.0 918.0C825.7 908.8 854.8 873.8 869.0 868.0C883.2 862.2 900.7 875.5 909.0 883.0C917.3 890.5 920.7 903.8 919.0 913.0C917.3 922.2 909.0 936.3 899.0 938.0C889.0 939.7 871.5 926.3 859.0 923.0C846.5 919.7 822.3 927.2 824.0 918.0Z"/>
<path d="M170.0 378.0C175.3 375.7 190.8 374.3 200.0 376.0C209.2 377.7 221.3 384.0 225.0 388.0C228.7 392.0 227.0 398.3 222.0 400.0C217.0 401.7 204.0 399.7 195.0 398.0C186.0 396.3 172.2 393.3 168.0 390.0C163.8 386.7 164.7 380.3 170.0 378.0Z"/>
</g>
<g fill="#000" filter="url(#bl1)">
<circle cx="170" cy="536" r="9"/>
<circle cx="352" cy="901" r="12"/>
<circle cx="612" cy="636" r="8"/>
<circle cx="609" cy="371" r="8"/>
<circle cx="604" cy="416" r="7"/>
<circle cx="540" cy="310" r="8"/>
</g>
</g>
</g>
<path d="M357.0 853.0C359.5 843.0 362.8 827.2 372.0 818.0C381.2 808.8 398.7 802.2 412.0 798.0C425.3 793.8 439.5 791.3 452.0 793.0C464.5 794.7 477.8 800.5 487.0 808.0C496.2 815.5 504.0 828.0 507.0 838.0C510.0 848.0 510.0 858.8 505.0 868.0C500.0 877.2 487.5 885.5 477.0 893.0C466.5 900.5 454.5 909.2 442.0 913.0C429.5 916.8 413.7 918.5 402.0 916.0C390.3 913.5 379.5 904.3 372.0 898.0C364.5 891.7 359.5 885.5 357.0 878.0C354.5 870.5 354.5 863.0 357.0 853.0Z" fill="#3a0000" filter="url(#bl0)"/>
<path d="M367.0 853.4C369.2 844.8 372.0 831.2 379.9 823.3C387.8 815.5 402.8 809.7 414.3 806.1C425.8 802.6 438.0 800.4 448.7 801.8C459.5 803.3 470.9 808.3 478.8 814.7C486.7 821.2 493.4 831.9 496.0 840.5C498.6 849.1 498.6 858.5 494.3 866.3C490.0 874.2 479.2 881.4 470.2 887.8C461.2 894.3 450.9 901.7 440.1 905.0C429.4 908.3 415.7 909.8 405.7 907.6C395.7 905.5 386.4 897.6 379.9 892.1C373.5 886.7 369.2 881.4 367.0 874.9C364.9 868.5 364.9 862.0 367.0 853.4Z" fill="url(#redg)" filter="url(#bl0r)"/>
</g>
<g transform="translate(693 470) scale(0.19185)">
<use href="#coreC"/>
<g mask="url(#msC)">
<path d="M380.0 800.0C393.0 786.7 426.7 770.0 450.0 770.0C473.3 770.0 506.7 785.0 520.0 800.0C533.3 815.0 536.7 843.3 530.0 860.0C523.3 876.7 501.7 895.0 480.0 900.0C458.3 905.0 418.0 898.3 400.0 890.0C382.0 881.7 375.3 865.0 372.0 850.0C368.7 835.0 367.0 813.3 380.0 800.0Z" fill="#8e8e8e" filter="url(#bl3)"/>
<g fill="#000" filter="url(#bl0)">
<path d="M870.0 890.0C874.2 881.7 889.2 874.2 900.0 875.0C910.8 875.8 928.7 886.7 935.0 895.0C941.3 903.3 943.0 917.5 938.0 925.0C933.0 932.5 915.5 940.0 905.0 940.0C894.5 940.0 880.8 933.3 875.0 925.0C869.2 916.7 865.8 898.3 870.0 890.0Z"/>
</g>
</g>
<path d="M750.0 830.0C751.7 815.8 763.3 802.5 775.0 795.0C786.7 787.5 804.2 783.3 820.0 785.0C835.8 786.7 857.5 794.2 870.0 805.0C882.5 815.8 891.7 835.0 895.0 850.0C898.3 865.0 897.5 883.7 890.0 895.0C882.5 906.3 865.0 916.3 850.0 918.0C835.0 919.7 814.2 911.3 800.0 905.0C785.8 898.7 773.3 892.5 765.0 880.0C756.7 867.5 748.3 844.2 750.0 830.0Z" fill="#3a0000" filter="url(#bl0)"/>
<path d="M760.3 833.0C761.8 820.8 771.8 809.4 781.8 802.9C791.9 796.5 806.9 792.9 820.5 794.3C834.2 795.7 852.8 802.2 863.5 811.5C874.3 820.8 882.2 837.3 885.0 850.2C887.9 863.1 887.2 879.2 880.7 888.9C874.3 898.6 859.2 907.2 846.3 908.7C833.4 910.1 815.5 902.9 803.3 897.5C791.2 892.1 780.4 886.8 773.2 876.0C766.1 865.3 758.9 845.2 760.3 833.0Z" fill="url(#redg)" filter="url(#bl0r)"/>
</g>
<g transform="translate(340 860) scale(0.19185)">
<defs>
<path id="oE" d="M622.0 326.0C620.5 327.0 621.2 304.3 617.0 296.0C612.8 287.7 605.3 280.5 597.0 276.0C588.7 271.5 567.0 274.0 567.0 269.0C567.0 264.0 589.5 254.0 597.0 246.0C604.5 238.0 610.3 232.7 612.0 221.0C613.7 209.3 608.7 191.8 607.0 176.0C605.3 160.2 606.2 138.5 602.0 126.0C597.8 113.5 588.7 106.0 582.0 101.0C575.3 96.0 568.7 96.0 562.0 96.0C555.3 96.0 549.5 104.3 542.0 101.0C534.5 97.7 525.3 82.2 517.0 76.0C508.7 69.8 500.3 65.7 492.0 64.0C483.7 62.3 477.0 63.5 467.0 66.0C457.0 68.5 443.7 74.3 432.0 79.0C420.3 83.7 407.8 88.2 397.0 94.0C386.2 99.8 374.5 106.2 367.0 114.0C359.5 121.8 353.2 132.3 352.0 141.0C350.8 149.7 356.2 157.7 360.0 166.0C363.8 174.3 372.2 184.3 375.0 191.0C377.8 197.7 380.8 204.7 377.0 206.0C373.2 207.3 359.5 203.2 352.0 199.0C344.5 194.8 338.7 187.3 332.0 181.0C325.3 174.7 317.8 164.7 312.0 161.0C306.2 157.3 303.7 157.3 297.0 159.0C290.3 160.7 280.3 164.8 272.0 171.0C263.7 177.2 255.3 186.0 247.0 196.0C238.7 206.0 230.3 219.3 222.0 231.0C213.7 242.7 205.3 253.5 197.0 266.0C188.7 278.5 177.8 295.2 172.0 306.0C166.2 316.8 167.8 323.5 162.0 331.0C156.2 338.5 144.5 343.5 137.0 351.0C129.5 358.5 122.8 366.8 117.0 376.0C111.2 385.2 106.5 395.2 102.0 406.0C97.5 416.8 92.8 429.3 90.0 441.0C87.2 452.7 85.0 465.2 85.0 476.0C85.0 486.8 91.3 497.7 90.0 506.0C88.7 514.3 80.0 517.7 77.0 526.0C74.0 534.3 72.3 548.2 72.0 556.0C71.7 563.8 73.7 563.5 75.0 573.0C76.3 582.5 77.2 601.3 80.0 613.0C82.8 624.7 91.2 633.0 92.0 643.0C92.8 653.0 86.2 659.7 85.0 673.0C83.8 686.3 82.2 708.0 85.0 723.0C87.8 738.0 100.0 752.2 102.0 763.0C104.0 773.8 100.7 778.8 97.0 788.0C93.3 797.2 80.3 809.7 80.0 818.0C79.7 826.3 94.7 829.7 95.0 838.0C95.3 846.3 83.3 858.0 82.0 868.0C80.7 878.0 82.8 889.7 87.0 898.0C91.2 906.3 93.7 915.5 107.0 918.0C120.3 920.5 160.3 909.7 167.0 913.0C173.7 916.3 152.8 929.7 147.0 938.0C141.2 946.3 132.8 953.8 132.0 963.0C131.2 972.2 136.2 983.8 142.0 993.0C147.8 1002.2 159.5 1010.5 167.0 1018.0C174.5 1025.5 178.7 1032.5 187.0 1038.0C195.3 1043.5 206.2 1049.3 217.0 1051.0C227.8 1052.7 241.2 1051.8 252.0 1048.0C262.8 1044.2 275.3 1029.7 282.0 1028.0C288.7 1026.3 288.7 1033.0 292.0 1038.0C295.3 1043.0 295.3 1053.3 302.0 1058.0C308.7 1062.7 320.3 1064.3 332.0 1066.0C343.7 1067.7 360.3 1066.3 372.0 1068.0C383.7 1069.7 392.8 1075.5 402.0 1076.0C411.2 1076.5 421.2 1075.7 427.0 1071.0C432.8 1066.3 436.5 1056.0 437.0 1048.0C437.5 1040.0 430.8 1033.0 430.0 1023.0C429.2 1013.0 426.7 995.5 432.0 988.0C437.3 980.5 452.8 983.0 462.0 978.0C471.2 973.0 482.3 968.0 487.0 958.0C491.7 948.0 490.0 928.0 490.0 918.0C490.0 908.0 483.3 902.2 487.0 898.0C490.7 893.8 505.3 898.8 512.0 893.0C518.7 887.2 526.2 873.0 527.0 863.0C527.8 853.0 522.0 842.2 517.0 833.0C512.0 823.8 499.5 813.3 497.0 808.0C494.5 802.7 490.3 801.8 502.0 801.0C513.7 800.2 553.7 800.2 567.0 803.0C580.3 805.8 576.2 814.7 582.0 818.0C587.8 821.3 595.3 821.7 602.0 823.0C608.7 824.3 615.8 825.2 622.0 826.0C628.2 826.8 630.3 831.0 639.0 828.0C647.7 825.0 662.3 812.2 674.0 808.0C685.7 803.8 697.3 805.5 709.0 803.0C720.7 800.5 737.3 793.0 744.0 793.0C750.7 793.0 752.3 797.2 749.0 803.0C745.7 808.8 729.8 819.7 724.0 828.0C718.2 836.3 714.8 844.7 714.0 853.0C713.2 861.3 714.0 871.3 719.0 878.0C724.0 884.7 736.5 888.8 744.0 893.0C751.5 897.2 760.7 896.3 764.0 903.0C767.3 909.7 761.5 922.2 764.0 933.0C766.5 943.8 777.3 960.5 779.0 968.0C780.7 975.5 769.0 975.5 774.0 978.0C779.0 980.5 801.5 978.8 809.0 983.0C816.5 987.2 818.2 998.0 819.0 1003.0C819.8 1008.0 813.2 1007.2 814.0 1013.0C814.8 1018.8 823.2 1030.5 824.0 1038.0C824.8 1045.5 821.8 1052.2 819.0 1058.0C816.2 1063.8 807.0 1068.8 807.0 1073.0C807.0 1077.2 808.7 1083.3 819.0 1083.0C829.3 1082.7 854.8 1074.3 869.0 1071.0C883.2 1067.7 895.7 1065.2 904.0 1063.0C912.3 1060.8 914.8 1055.5 919.0 1058.0C923.2 1060.5 922.3 1073.3 929.0 1078.0C935.7 1082.7 950.2 1086.8 959.0 1086.0C967.8 1085.2 977.0 1079.3 982.0 1073.0C987.0 1066.7 986.2 1053.8 989.0 1048.0C991.8 1042.2 994.0 1038.0 999.0 1038.0C1004.0 1038.0 1010.7 1048.8 1019.0 1048.0C1027.3 1047.2 1040.7 1038.8 1049.0 1033.0C1057.3 1027.2 1066.5 1020.5 1069.0 1013.0C1071.5 1005.5 1059.8 995.5 1064.0 988.0C1068.2 980.5 1089.0 975.5 1094.0 968.0C1099.0 960.5 1089.0 950.5 1094.0 943.0C1099.0 935.5 1114.8 930.5 1124.0 923.0C1133.2 915.5 1141.5 907.2 1149.0 898.0C1156.5 888.8 1164.3 878.0 1169.0 868.0C1173.7 858.0 1177.0 847.2 1177.0 838.0C1177.0 828.8 1174.5 818.0 1169.0 813.0C1163.5 808.0 1146.5 811.3 1144.0 808.0C1141.5 804.7 1153.2 799.7 1154.0 793.0C1154.8 786.3 1148.2 779.7 1149.0 768.0C1149.8 756.3 1156.5 736.3 1159.0 723.0C1161.5 709.7 1165.7 697.2 1164.0 688.0C1162.3 678.8 1155.7 675.5 1149.0 668.0C1142.3 660.5 1129.0 649.7 1124.0 643.0C1119.0 636.3 1115.7 633.0 1119.0 628.0C1122.3 623.0 1135.7 619.7 1144.0 613.0C1152.3 606.3 1163.2 594.7 1169.0 588.0C1174.8 581.3 1178.2 580.0 1179.0 573.0C1179.8 566.0 1176.8 555.5 1174.0 546.0C1171.2 536.5 1164.5 527.7 1162.0 516.0C1159.5 504.3 1161.2 488.5 1159.0 476.0C1156.8 463.5 1154.0 451.8 1149.0 441.0C1144.0 430.2 1134.0 421.0 1129.0 411.0C1124.0 401.0 1124.0 386.8 1119.0 381.0C1114.0 375.2 1101.5 381.8 1099.0 376.0C1096.5 370.2 1104.8 356.0 1104.0 346.0C1103.2 336.0 1099.8 326.0 1094.0 316.0C1088.2 306.0 1077.3 296.0 1069.0 286.0C1060.7 276.0 1053.2 263.5 1044.0 256.0C1034.8 248.5 1024.0 245.2 1014.0 241.0C1004.0 236.8 993.2 236.3 984.0 231.0C974.8 225.7 968.2 212.3 959.0 209.0C949.8 205.7 935.7 214.0 929.0 211.0C922.3 208.0 924.0 200.2 919.0 191.0C914.0 181.8 905.7 163.5 899.0 156.0C892.3 148.5 884.8 151.3 879.0 146.0C873.2 140.7 870.7 128.2 864.0 124.0C857.3 119.8 846.5 120.7 839.0 121.0C831.5 121.3 821.8 128.5 819.0 126.0C816.2 123.5 823.7 112.2 822.0 106.0C820.3 99.8 816.2 94.0 809.0 89.0C801.8 84.0 790.7 79.8 779.0 76.0C767.3 72.2 752.3 68.0 739.0 66.0C725.7 64.0 709.8 63.2 699.0 64.0C688.2 64.8 683.2 67.3 674.0 71.0C664.8 74.7 652.7 80.2 644.0 86.0C635.3 91.8 626.5 98.5 622.0 106.0C617.5 113.5 615.0 122.7 617.0 131.0C619.0 139.3 627.8 148.5 634.0 156.0C640.2 163.5 649.8 166.0 654.0 176.0C658.2 186.0 657.3 204.3 659.0 216.0C660.7 227.7 668.0 240.0 664.0 246.0C660.0 252.0 641.3 244.7 635.0 252.0C628.7 259.3 628.2 277.7 626.0 290.0C623.8 302.3 623.5 325.0 622.0 326.0Z"/>
<path id="pE0" d="M377.0 206.0C379.5 216.0 387.0 246.8 392.0 266.0C397.0 285.2 404.5 311.8 407.0 321.0"/>
<path id="pE1" d="M190.0 371.0C196.2 375.5 213.3 389.7 227.0 398.0C240.7 406.3 264.5 417.2 272.0 421.0"/>
<path id="pE2" d="M202.0 386.0C193.7 388.5 164.5 391.8 152.0 401.0C139.5 410.2 127.0 426.8 127.0 441.0C127.0 455.2 142.8 473.5 152.0 486.0C161.2 498.5 177.0 511.0 182.0 516.0"/>
<path id="pE3" d="M819.0 126.0C814.2 130.0 798.3 142.5 790.0 150.0C781.7 157.5 772.5 167.5 769.0 171.0"/>
<path id="pE4" d="M1099.0 371.0C1090.7 376.8 1065.7 391.8 1049.0 406.0C1032.3 420.2 1007.3 447.7 999.0 456.0"/>
<path id="pE5" d="M929.0 211.0C924.2 219.2 909.8 245.2 900.0 260.0C890.2 274.8 875.0 293.3 870.0 300.0"/>
<path id="pE6" d="M984.0 231.0C982.5 240.8 979.8 271.8 975.0 290.0C970.2 308.2 958.3 331.7 955.0 340.0"/>
<path id="pE7" d="M80.0 600.0C93.3 598.3 131.7 595.0 160.0 590.0C188.3 585.0 235.0 573.3 250.0 570.0"/>
<path id="pE8" d="M1159.0 476.0C1145.8 480.0 1106.5 491.8 1080.0 500.0C1053.5 508.2 1013.3 520.8 1000.0 525.0"/>
<path id="pE9" d="M107.0 918.0C119.2 915.0 156.2 906.3 180.0 900.0C203.8 893.7 238.3 883.3 250.0 880.0"/>
<path id="pE10" d="M95.0 838.0C105.3 834.7 134.5 822.7 157.0 818.0C179.5 813.3 217.8 811.3 230.0 810.0"/>
<path id="pE11" d="M282.0 1028.0C286.7 1020.8 301.2 998.0 310.0 985.0C318.8 972.0 330.8 955.8 335.0 950.0"/>
<path id="pE12" d="M1144.0 808.0C1134.8 808.0 1108.0 804.3 1089.0 808.0C1070.0 811.7 1046.5 828.8 1030.0 830.0C1013.5 831.2 996.7 817.5 990.0 815.0"/>
<path id="pE13" d="M1094.0 968.0C1085.0 966.7 1056.5 965.5 1040.0 960.0C1023.5 954.5 1002.5 939.2 995.0 935.0"/>
<path id="pE14" d="M919.0 1058.0C918.3 1050.8 917.3 1027.2 915.0 1015.0C912.7 1002.8 906.7 990.0 905.0 985.0"/>
<path id="pE15" d="M999.0 1038.0C995.8 1032.5 986.5 1014.7 980.0 1005.0C973.5 995.3 963.3 984.2 960.0 980.0"/>
<path id="pE16" d="M100.0 700.0C111.2 700.0 144.5 701.7 167.0 700.0C189.5 698.3 219.2 696.7 235.0 690.0C250.8 683.3 257.5 665.0 262.0 660.0"/>
<path id="pE17" d="M235.0 690.0C237.5 696.7 245.5 719.0 250.0 730.0C254.5 741.0 260.0 751.7 262.0 756.0"/>
<path id="pE18" d="M1149.0 668.0C1134.2 665.0 1083.2 651.3 1060.0 650.0C1036.8 648.7 1017.5 648.3 1010.0 660.0C1002.5 671.7 1021.0 702.8 1015.0 720.0C1009.0 737.2 980.8 755.8 974.0 763.0"/>
<path id="pE19" d="M880.0 900.0C875.0 905.0 860.0 918.3 850.0 930.0C840.0 941.7 825.0 963.3 820.0 970.0"/>
<path id="pE20" d="M360.0 900.0C355.0 905.0 340.0 920.0 330.0 930.0C320.0 940.0 305.0 955.0 300.0 960.0"/>
<g id="sE" fill="none" stroke-linecap="round" stroke-linejoin="round">
<use href="#pE0" stroke-width="52"/>
<use href="#pE1" stroke-width="44"/>
<use href="#pE2" stroke-width="40"/>
<use href="#pE3" stroke-width="44"/>
<use href="#pE4" stroke-width="48"/>
<use href="#pE5" stroke-width="60"/>
<use href="#pE6" stroke-width="40"/>
<use href="#pE7" stroke-width="40"/>
<use href="#pE8" stroke-width="44"/>
<use href="#pE9" stroke-width="44"/>
<use href="#pE10" stroke-width="44"/>
<use href="#pE11" stroke-width="36"/>
<use href="#pE12" stroke-width="44"/>
<use href="#pE13" stroke-width="44"/>
<use href="#pE14" stroke-width="36"/>
<use href="#pE15" stroke-width="36"/>
<use href="#pE16" stroke-width="48"/>
<use href="#pE17" stroke-width="44"/>
<use href="#pE18" stroke-width="52"/>
<use href="#pE19" stroke-width="40"/>
<use href="#pE20" stroke-width="36"/>
</g>
<g id="tE" fill="none" stroke-linecap="round" stroke-linejoin="round">
<use href="#pE0"/>
<use href="#pE1"/>
<use href="#pE2"/>
<use href="#pE3"/>
<use href="#pE4"/>
<use href="#pE5"/>
<use href="#pE6"/>
<use href="#pE7"/>
<use href="#pE8"/>
<use href="#pE9"/>
<use href="#pE10"/>
<use href="#pE11"/>
<use href="#pE12"/>
<use href="#pE13"/>
<use href="#pE14"/>
<use href="#pE15"/>
<use href="#pE16"/>
<use href="#pE17"/>
<use href="#pE18"/>
<use href="#pE19"/>
<use href="#pE20"/>
</g>
<mask id="msE" maskUnits="userSpaceOnUse" x="0" y="0" width="1260" height="1160"><use href="#oE" fill="#fff"/></mask>
<mask id="mmE" maskUnits="userSpaceOnUse" x="0" y="0" width="1260" height="1160"><use href="#oE" fill="#fff" stroke="#000" stroke-width="20" stroke-linejoin="round"/></mask>
<mask id="mwE" maskUnits="userSpaceOnUse" x="0" y="0" width="1260" height="1160"><use href="#oE" fill="#fff" stroke="#000" stroke-width="88" stroke-linejoin="round"/><use href="#sE" stroke="#000"/></mask>
</defs>
<g id="coreE">
<g filter="url(#bl1)"><g mask="url(#msE)"><rect width="1260" height="1160" fill="#6c6c6c"/></g></g>
<g filter="url(#bl0)"><use href="#oE" fill="none" stroke="#4a4a4a" stroke-width="7" stroke-linejoin="round" mask="url(#msE)"/></g>
<g filter="url(#bl2a)"><g mask="url(#mmE)"><rect width="1260" height="1160" fill="#8a8a8a"/></g></g>
<g filter="url(#bl2)"><g mask="url(#mwE)"><rect width="1260" height="1160" fill="#ebebeb"/></g></g>
<g mask="url(#msE)">
<use href="#tE" stroke="#505050" stroke-opacity="0.7" stroke-width="10" filter="url(#bl1)"/>
<path d="M302.0 573.0C318.7 558.0 367.0 559.7 400.0 560.0C433.0 560.3 468.0 568.3 500.0 575.0C532.0 581.7 576.0 579.2 592.0 600.0C608.0 620.8 596.3 667.0 596.0 700.0C595.7 733.0 606.0 781.3 590.0 798.0C574.0 814.7 531.7 801.3 500.0 800.0C468.3 798.7 430.0 800.0 400.0 790.0C370.0 780.0 336.7 763.3 320.0 740.0C303.3 716.7 303.0 677.8 300.0 650.0C297.0 622.2 285.3 588.0 302.0 573.0Z" fill="#dadada" filter="url(#bl3)"/>
<path d="M640.0 600.0C659.0 578.3 715.0 574.2 750.0 570.0C785.0 565.8 818.3 570.0 850.0 575.0C881.7 580.0 924.2 579.2 940.0 600.0C955.8 620.8 951.7 669.5 945.0 700.0C938.3 730.5 924.2 768.0 900.0 783.0C875.8 798.0 833.3 788.0 800.0 790.0C766.7 792.0 726.7 795.0 700.0 795.0C673.3 795.0 650.7 805.8 640.0 790.0C629.3 774.2 636.0 731.7 636.0 700.0C636.0 668.3 621.0 621.7 640.0 600.0Z" fill="#dadada" filter="url(#bl3)"/>
<path d="M455.0 488.0C462.5 482.7 487.5 496.0 500.0 508.0C512.5 520.0 526.7 546.3 530.0 560.0C533.3 573.7 528.3 587.5 520.0 590.0C511.7 592.5 490.8 583.3 480.0 575.0C469.2 566.7 459.2 554.5 455.0 540.0C450.8 525.5 447.5 493.3 455.0 488.0Z" fill="#b4b4b4" filter="url(#bl3)"/>
<path d="M775.0 488.0C767.5 482.7 742.5 496.0 730.0 508.0C717.5 520.0 703.3 546.3 700.0 560.0C696.7 573.7 701.7 587.5 710.0 590.0C718.3 592.5 739.2 583.3 750.0 575.0C760.8 566.7 770.8 554.5 775.0 540.0C779.2 525.5 782.5 493.3 775.0 488.0Z" fill="#b4b4b4" filter="url(#bl3)"/>
<path d="M714.0 800.0C728.3 787.2 775.8 783.0 800.0 783.0C824.2 783.0 850.7 787.2 859.0 800.0C867.3 812.8 850.0 836.7 850.0 860.0C850.0 883.3 867.3 921.2 859.0 940.0C850.7 958.8 819.8 973.0 800.0 973.0C780.2 973.0 754.3 958.8 740.0 940.0C725.7 921.2 718.3 883.3 714.0 860.0C709.7 836.7 699.7 812.8 714.0 800.0Z" fill="#9c9c9c" filter="url(#bl3)"/>
<path d="M380.0 820.0C394.7 813.8 435.5 809.7 460.0 813.0C484.5 816.3 517.0 825.5 527.0 840.0C537.0 854.5 529.5 880.0 520.0 900.0C510.5 920.0 490.0 950.0 470.0 960.0C450.0 970.0 412.5 970.0 400.0 960.0C387.5 950.0 399.7 918.3 395.0 900.0C390.3 881.7 374.5 863.3 372.0 850.0C369.5 836.7 365.3 826.2 380.0 820.0Z" fill="#a0a0a0" filter="url(#bl3)"/>
<ellipse cx="487" cy="136" rx="45" ry="40" fill="#707070" filter="url(#bl3)"/>
<ellipse cx="552" cy="306" rx="50" ry="40" fill="#8c8c8c" filter="url(#bl3)"/>
<ellipse cx="609.5" cy="428.5" rx="57.5" ry="12.5" fill="#9a9a9a" filter="url(#bl3)"/>
<ellipse cx="302" cy="573" rx="50" ry="27" fill="#8c8c8c" filter="url(#bl3)"/>
<ellipse cx="859" cy="236" rx="35" ry="90" fill="#7c7c7c" transform="rotate(28 859 236)" filter="url(#bl3)"/>
<ellipse cx="664" cy="311" rx="45" ry="65" fill="#8c8c8c" filter="url(#bl3)"/>
<ellipse cx="1014" cy="573" rx="135" ry="37" fill="#8c8c8c" filter="url(#bl3)"/>
<ellipse cx="164.5" cy="628" rx="62.5" ry="45" fill="#8c8c8c" filter="url(#bl3)"/>
<ellipse cx="282" cy="760.5" rx="30" ry="62.5" fill="#a8a8a8" filter="url(#bl3)"/>
<path d="M622.0 330.0C620.7 340.0 616.0 371.7 614.0 390.0C612.0 408.3 610.7 431.7 610.0 440.0" fill="none" stroke="#222" stroke-width="9" stroke-linecap="round" stroke-linejoin="round" filter="url(#bl1)"/>
<path d="M555.0 424.0C564.5 426.7 592.8 439.0 612.0 440.0C631.2 441.0 660.3 431.7 670.0 430.0" fill="none" stroke="#888" stroke-width="7" stroke-linecap="round" stroke-linejoin="round" filter="url(#bl1)"/>
<path d="M202.0 386.0C193.7 388.5 164.5 391.8 152.0 401.0C139.5 410.2 127.0 426.8 127.0 441.0C127.0 455.2 142.8 473.5 152.0 486.0C161.2 498.5 177.0 511.0 182.0 516.0" fill="none" stroke="#333" stroke-width="7" stroke-linecap="round" stroke-linejoin="round" filter="url(#bl1)"/>
<path d="M590.0 570.0C593.7 580.0 608.3 611.7 612.0 630.0C615.7 648.3 612.0 671.7 612.0 680.0" fill="none" stroke="#111" stroke-width="8" stroke-linecap="round" stroke-linejoin="round" filter="url(#bl1)"/>
<path d="M640.0 570.0 L614.0 630.0" fill="none" stroke="#111" stroke-width="8" stroke-linecap="round" stroke-linejoin="round" filter="url(#bl1)"/>
<g fill="#000" filter="url(#bl0)">
<path d="M477.0 466.0C479.5 460.7 486.2 456.7 500.0 460.0C513.8 463.3 542.3 478.0 560.0 486.0C577.7 494.0 597.7 499.0 606.0 508.0C614.3 517.0 612.0 530.3 610.0 540.0C608.0 549.7 602.3 561.0 594.0 566.0C585.7 571.0 570.7 571.8 560.0 570.0C549.3 568.2 539.2 563.3 530.0 555.0C520.8 546.7 512.5 530.5 505.0 520.0C497.5 509.5 489.7 501.0 485.0 492.0C480.3 483.0 474.5 471.3 477.0 466.0Z"/>
<path d="M750.0 468.0C746.5 463.0 738.0 459.0 725.0 462.0C712.0 465.0 688.5 478.3 672.0 486.0C655.5 493.7 634.3 499.0 626.0 508.0C617.7 517.0 618.8 530.3 622.0 540.0C625.2 549.7 635.3 561.0 645.0 566.0C654.7 571.0 669.5 572.7 680.0 570.0C690.5 567.3 699.7 558.7 708.0 550.0C716.3 541.3 723.7 527.7 730.0 518.0C736.3 508.3 742.7 500.3 746.0 492.0C749.3 483.7 753.5 473.0 750.0 468.0Z"/>
<path d="M167.0 700.0C168.7 695.0 177.0 684.3 185.0 682.0C193.0 679.7 206.7 687.7 215.0 686.0C223.3 684.3 227.2 676.7 235.0 672.0C242.8 667.3 256.5 658.0 262.0 658.0C267.5 658.0 270.8 665.8 268.0 672.0C265.2 678.2 247.7 685.3 245.0 695.0C242.3 704.7 248.7 720.0 252.0 730.0C255.3 740.0 265.3 750.3 265.0 755.0C264.7 759.7 255.5 760.5 250.0 758.0C244.5 755.5 236.2 747.7 232.0 740.0C227.8 732.3 230.3 717.8 225.0 712.0C219.7 706.2 208.3 705.0 200.0 705.0C191.7 705.0 180.5 712.8 175.0 712.0C169.5 711.2 165.3 705.0 167.0 700.0Z"/>
<path d="M330.0 883.0C336.7 873.5 362.5 842.7 372.0 841.0C381.5 839.3 382.0 861.0 387.0 873.0C392.0 885.0 407.8 906.3 402.0 913.0C396.2 919.7 363.7 915.5 352.0 913.0C340.3 910.5 335.7 903.0 332.0 898.0C328.3 893.0 323.3 892.5 330.0 883.0Z"/>
<path d="M612.0 600.0C615.0 598.3 618.0 621.7 622.0 640.0C626.0 658.3 635.0 688.3 636.0 710.0C637.0 731.7 631.2 757.5 628.0 770.0C624.8 782.5 620.7 786.7 617.0 785.0C613.3 783.3 609.2 772.5 606.0 760.0C602.8 747.5 598.3 728.3 598.0 710.0C597.7 691.7 601.7 668.3 604.0 650.0C606.3 631.7 609.0 601.7 612.0 600.0Z"/>
<path d="M979.0 633.0C979.8 628.8 991.5 645.5 999.0 648.0C1006.5 650.5 1018.2 639.7 1024.0 648.0C1029.8 656.3 1036.5 685.5 1034.0 698.0C1031.5 710.5 1014.8 719.7 1009.0 723.0C1003.2 726.3 1001.5 726.3 999.0 718.0C996.5 709.7 997.3 687.2 994.0 673.0C990.7 658.8 978.2 637.2 979.0 633.0Z"/>
<path d="M849.0 828.0C852.3 823.0 865.7 834.7 879.0 843.0C892.3 851.3 920.7 868.0 929.0 878.0C937.3 888.0 933.2 893.0 929.0 903.0C924.8 913.0 912.3 933.0 904.0 938.0C895.7 943.0 887.3 937.2 879.0 933.0C870.7 928.8 857.3 923.0 854.0 913.0C850.7 903.0 859.8 887.2 859.0 873.0C858.2 858.8 845.7 833.0 849.0 828.0Z"/>
<path d="M195.0 374.0C197.8 372.3 209.5 376.3 215.0 380.0C220.5 383.7 228.0 392.7 228.0 396.0C228.0 399.3 220.0 401.0 215.0 400.0C210.0 399.0 201.3 394.3 198.0 390.0C194.7 385.7 192.2 375.7 195.0 374.0Z"/>
</g>
<g fill="#000" filter="url(#bl1)">
<circle cx="157" cy="818" r="8"/>
<circle cx="974" cy="763" r="13"/>
<circle cx="1089" cy="808" r="8"/>
<circle cx="1114" cy="816" r="7"/>
<circle cx="674" cy="354" r="8"/>
<circle cx="779" cy="161" r="8"/>
<circle cx="1009" cy="451" r="8"/>
<circle cx="457" cy="126" r="7"/>
<circle cx="522" cy="138" r="7"/>
</g>
</g>
</g>
<path d="M432.0 623.0C444.5 619.7 477.0 618.0 492.0 623.0C507.0 628.0 514.0 638.0 522.0 653.0C530.0 668.0 535.8 694.7 540.0 713.0C544.2 731.3 548.3 752.2 547.0 763.0C545.7 773.8 537.8 772.2 532.0 778.0C526.2 783.8 520.3 794.7 512.0 798.0C503.7 801.3 487.8 800.5 482.0 798.0C476.2 795.5 490.3 785.8 477.0 783.0C463.7 780.2 415.3 784.3 402.0 781.0C388.7 777.7 397.3 779.3 397.0 763.0C396.7 746.7 396.7 703.0 400.0 683.0C403.3 663.0 411.7 653.0 417.0 643.0C422.3 633.0 419.5 626.3 432.0 623.0Z" fill="#3a0000" filter="url(#bl0)"/>
<path d="M440.2 643.0C450.2 640.4 476.2 639.0 488.2 643.0C500.2 647.0 505.8 655.0 512.2 667.0C518.6 679.0 523.3 700.4 526.6 715.0C530.0 729.7 533.3 746.4 532.2 755.0C531.2 763.7 524.9 762.4 520.2 767.0C515.6 771.7 510.9 780.4 504.2 783.0C497.6 785.7 484.9 785.0 480.2 783.0C475.6 781.0 486.9 773.3 476.2 771.0C465.6 768.8 426.9 772.1 416.2 769.4C405.6 766.8 412.5 768.1 412.2 755.0C412.0 742.0 412.0 707.0 414.6 691.0C417.3 675.0 424.0 667.0 428.2 659.0C432.5 651.0 430.2 645.7 440.2 643.0Z" fill="url(#redg)" filter="url(#bl0r)"/>
</g>
<path d="M107.6 59V326.2" fill="none" stroke="#303030" stroke-width="1.2"/>
<path d="M107 326.2H309" fill="none" stroke="#2c2c2c" stroke-width="1.35"/>
<line x1="107.6" y1="113.2" x2="116.1" y2="113.2" stroke="#555" stroke-width="1.1"/>
<line x1="107.6" y1="219.7" x2="116.1" y2="219.7" stroke="#555" stroke-width="1.1"/>
<text transform="translate(49.78 119.8) scale(0.9282 1)" font-size="22.2" xml:space="preserve" >5800</text>
<text transform="translate(49.78 226.3) scale(0.9282 1)" font-size="22.2" xml:space="preserve" >5400</text>
<text transform="translate(49.78 332.8) scale(0.9282 1)" font-size="22.2" xml:space="preserve" >5000</text>
<rect x="134.1" y="116.7" width="49.1" height="209.5" fill="#5e5e5e" stroke="#111" stroke-width="1.35"/>
<path d="M158.65 116.7V102.4M146.05 102.4H171.25" fill="none" stroke="#111" stroke-width="1.3"/>
<rect x="235.05" y="246.4" width="49.15" height="79.8" fill="#a09fa3" stroke="#111" stroke-width="1.35"/>
<path d="M259.62 246.4V238.2M247.03 238.2H272.23" fill="none" stroke="#111" stroke-width="1.3"/>
<path d="M159.4 89.8V82.6H256.8V89.8" fill="none" stroke="#0a0a0a" stroke-width="1.4"/>
<text x="192.82" y="87.7" font-size="36" font-weight="bold" letter-spacing="2.8">**</text>
<text transform="translate(127.15 357) scale(1.0040 1)" font-size="23" xml:space="preserve" >Males</text>
<text transform="translate(215.17 357) scale(0.9935 1)" font-size="23" xml:space="preserve" >Females</text>
<text transform="translate(39.3 192.4) rotate(-90)" font-size="27.5" text-anchor="middle" textLength="161" lengthAdjust="spacingAndGlyphs">Volume(mm<tspan font-size="18" dy="-10.5">3</tspan><tspan dy="10.5">)</tspan></text>
<text transform="translate(200.81 42.8) scale(0.9884 1)" font-size="32.7" xml:space="preserve" >Left putamen</text>
<text transform="translate(14.89 48.7) scale(0.9852 1)" font-size="42.6" xml:space="preserve" >A</text>
<path d="M1051.8 58.5V325.5" fill="none" stroke="#484848" stroke-width="1.3"/>
<path d="M1051.15 325.5H1253" fill="none" stroke="#2c2c2c" stroke-width="1.35"/>
<line x1="1051.8" y1="112" x2="1060.3" y2="112" stroke="#555" stroke-width="1.1"/>
<line x1="1051.8" y1="219" x2="1060.3" y2="219" stroke="#555" stroke-width="1.1"/>
<text transform="translate(993.98 119.2) scale(0.9219 1)" font-size="22.2" xml:space="preserve" >5800</text>
<text transform="translate(993.98 226.2) scale(0.9219 1)" font-size="22.2" xml:space="preserve" >5400</text>
<text transform="translate(993.98 332.7) scale(0.9219 1)" font-size="22.2" xml:space="preserve" >5000</text>
<rect x="1077.7" y="125.2" width="49.9" height="200.3" fill="#5e5e5e" stroke="#111" stroke-width="1.35"/>
<path d="M1102.65 125.2V111.1M1090.05 111.1H1115.25" fill="none" stroke="#111" stroke-width="1.3"/>
<rect x="1179.2" y="241.8" width="49.6" height="83.7" fill="#a09fa3" stroke="#111" stroke-width="1.35"/>
<path d="M1204 241.8V234.1M1191.4 234.1H1216.6" fill="none" stroke="#111" stroke-width="1.3"/>
<path d="M1102.1 102.2V91.9H1201.3V102.2" fill="none" stroke="#0a0a0a" stroke-width="1.8"/>
<text x="1144.92" y="97.6" font-size="36" font-weight="bold" letter-spacing="2.8">*</text>
<text transform="translate(1064.75 357) scale(1.0074 1)" font-size="23" xml:space="preserve" >Males</text>
<text transform="translate(1152.66 357) scale(0.9993 1)" font-size="23" xml:space="preserve" >Females</text>
<text transform="translate(983.5 192.4) rotate(-90)" font-size="27.5" text-anchor="middle" textLength="161" lengthAdjust="spacingAndGlyphs">Volume(mm<tspan font-size="18" dy="-10.5">3</tspan><tspan dy="10.5">)</tspan></text>
<text transform="translate(865.14 41.8) scale(0.9780 1)" font-size="32.7" xml:space="preserve" >Right  putamen</text>
<text transform="translate(690.54 48.7) scale(0.9872 1)" font-size="42.6" xml:space="preserve" >B</text>
<path d="M107.6 439V706.3" fill="none" stroke="#6c6c6c" stroke-width="1.6"/>
<path d="M106.8 706.3H309" fill="none" stroke="#2c2c2c" stroke-width="1.35"/>
<line x1="107.6" y1="493.4" x2="116.1" y2="493.4" stroke="#555" stroke-width="1.1"/>
<line x1="107.6" y1="599.6" x2="116.1" y2="599.6" stroke="#555" stroke-width="1.1"/>
<text transform="translate(42.46 500.8) scale(0.9265 1)" font-size="22.2" xml:space="preserve" >1800</text>
<text transform="translate(42.46 607) scale(0.9265 1)" font-size="22.2" xml:space="preserve" >1400</text>
<text transform="translate(42.46 713.7) scale(0.9265 1)" font-size="22.2" xml:space="preserve" >1000</text>
<rect x="133.8" y="521.9" width="49.5" height="184.4" fill="#5e5e5e" stroke="#111" stroke-width="1.35"/>
<path d="M158.55 521.9V517.4M145.95 517.4H171.15" fill="none" stroke="#111" stroke-width="1.3"/>
<rect x="235.5" y="577.8" width="49.5" height="128.5" fill="#a09fa3" stroke="#111" stroke-width="1.35"/>
<path d="M260.25 577.8V574.2M247.65 574.2H272.85" fill="none" stroke="#111" stroke-width="1.3"/>
<path d="M158.8 502.8V495.4H256.8V502.8" fill="none" stroke="#0a0a0a" stroke-width="1.4"/>
<text x="184.62" y="500.5" font-size="36" font-weight="bold" letter-spacing="2.8">***</text>
<text transform="translate(127.15 737.5) scale(1.0040 1)" font-size="23" xml:space="preserve" >Males</text>
<text transform="translate(215.17 737.5) scale(0.9935 1)" font-size="23" xml:space="preserve" >Females</text>
<text transform="translate(39.3 577.8) rotate(-90)" font-size="27.5" text-anchor="middle" textLength="161" lengthAdjust="spacingAndGlyphs">Volume(mm<tspan font-size="18" dy="-10.5">3</tspan><tspan dy="10.5">)</tspan></text>
<text transform="translate(194.15 422.8) scale(0.9742 1)" font-size="32.7" xml:space="preserve" >Left amygdala</text>
<text transform="translate(12.94 430) scale(0.9688 1)" font-size="42.6" xml:space="preserve" >C</text>
<path d="M1051.8 439V706.3" fill="none" stroke="#484848" stroke-width="1.3"/>
<path d="M1051.15 706.3H1253" fill="none" stroke="#2c2c2c" stroke-width="1.35"/>
<line x1="1051.8" y1="492.8" x2="1060.3" y2="492.8" stroke="#555" stroke-width="1.1"/>
<line x1="1051.8" y1="599.5" x2="1060.3" y2="599.5" stroke="#555" stroke-width="1.1"/>
<text transform="translate(992.46 500.2) scale(0.9265 1)" font-size="22.2" xml:space="preserve" >1800</text>
<text transform="translate(992.46 606.9) scale(0.9265 1)" font-size="22.2" xml:space="preserve" >1400</text>
<text transform="translate(992.46 713.7) scale(0.9265 1)" font-size="22.2" xml:space="preserve" >1000</text>
<rect x="1077.7" y="490.5" width="49.9" height="215.8" fill="#5e5e5e" stroke="#111" stroke-width="1.35"/>
<path d="M1102.65 490.5V484.4M1090.05 484.4H1115.25" fill="none" stroke="#111" stroke-width="1.3"/>
<rect x="1179.2" y="550" width="49.6" height="156.3" fill="#a09fa3" stroke="#111" stroke-width="1.35"/>
<path d="M1204 550V546.2M1191.4 546.2H1216.6" fill="none" stroke="#111" stroke-width="1.3"/>
<path d="M1104 470.7V463.4H1201.3V470.7" fill="none" stroke="#0a0a0a" stroke-width="1.4"/>
<text x="1128.72" y="469.5" font-size="36" font-weight="bold" letter-spacing="2.8">***</text>
<text transform="translate(1070.85 737.5) scale(1.0074 1)" font-size="23" xml:space="preserve" >Males</text>
<text transform="translate(1158.46 737.5) scale(1.0016 1)" font-size="23" xml:space="preserve" >Females</text>
<text transform="translate(983.4 573) rotate(-90)" font-size="27.5" text-anchor="middle" textLength="161" lengthAdjust="spacingAndGlyphs">Volume(mm<tspan font-size="18" dy="-10.5">3</tspan><tspan dy="10.5">)</tspan></text>
<text transform="translate(862.67 422.8) scale(0.9671 1)" font-size="32.7" xml:space="preserve" >Right amygdala</text>
<text transform="translate(690.76 429.2) scale(0.9508 1)" font-size="42.6" xml:space="preserve" >D</text>
<path d="M108 829.2V1095.9" fill="none" stroke="#707070" stroke-width="1.7"/>
<path d="M107.15 1095.9H309" fill="none" stroke="#2c2c2c" stroke-width="1.85"/>
<line x1="108" y1="882.4" x2="116.5" y2="882.4" stroke="#555" stroke-width="1.1"/>
<line x1="108" y1="989.2" x2="116.5" y2="989.2" stroke="#555" stroke-width="1.1"/>
<text transform="translate(53.95 889.3) scale(0.9494 1)" font-size="22.2" xml:space="preserve" >2100</text>
<text transform="translate(55.38 996.1) scale(0.9158 1)" font-size="22.2" xml:space="preserve" >1700</text>
<text transform="translate(55.38 1102.5) scale(0.9158 1)" font-size="22.2" xml:space="preserve" >1300</text>
<rect x="133.8" y="878.3" width="49.5" height="217.6" fill="#5e5e5e" stroke="#111" stroke-width="1.35"/>
<path d="M158.55 878.3V870.6M145.95 870.6H171.15" fill="none" stroke="#111" stroke-width="1.3"/>
<rect x="235.5" y="950.6" width="49.5" height="145.3" fill="#a09fa3" stroke="#111" stroke-width="1.35"/>
<path d="M260.25 950.6V944.5M247.65 944.5H272.85" fill="none" stroke="#111" stroke-width="1.3"/>
<path d="M158.8 855.7V848.4H257.3V855.7" fill="none" stroke="#0a0a0a" stroke-width="1.4"/>
<text x="192.82" y="853.6" font-size="36" font-weight="bold" letter-spacing="2.8">**</text>
<text transform="translate(127.15 1129) scale(1.0040 1)" font-size="23" xml:space="preserve" >Males</text>
<text transform="translate(215.17 1129) scale(0.9935 1)" font-size="23" xml:space="preserve" >Females</text>
<text transform="translate(39.3 962.4) rotate(-90)" font-size="27.5" text-anchor="middle" textLength="161" lengthAdjust="spacingAndGlyphs">Volume(mm<tspan font-size="18" dy="-10.5">3</tspan><tspan dy="10.5">)</tspan></text>
<text transform="translate(204.01 811.8) scale(0.9900 1)" font-size="32.7" xml:space="preserve" >Left pallidum</text>
<text transform="translate(12.41 808.3) scale(0.9347 1)" font-size="42.6" xml:space="preserve" >E</text>
<rect x="839.5" y="866" width="255" height="166" fill="#fff" stroke="#5a5a5a" stroke-width="1.2"/>
<text transform="translate(944.67 902.9) scale(1.0079 1)" font-size="32.5" xml:space="preserve" >p &lt; 0.05</text>
<text transform="translate(946.51 957.6) scale(0.9916 1)" font-size="32.5" xml:space="preserve" >p &lt; 0.01</text>
<text transform="translate(947.9 1011.7) scale(0.9940 1)" font-size="32.5" xml:space="preserve" >p &lt; 0.001</text>
<text x="859.78" y="898.1" font-size="28.5" stroke="#000" stroke-width="0.5" letter-spacing="1.5">*</text>
<text x="857.58" y="954.2" font-size="28.5" stroke="#000" stroke-width="0.5" letter-spacing="1.5">**</text>
<text x="856.28" y="1008.4" font-size="28.5" stroke="#000" stroke-width="0.5" letter-spacing="1.5">***</text>
<text transform="translate(422.03 350.6) scale(0.9298 1)" font-size="36.2" xml:space="preserve" >y = 4</text>
<text transform="translate(775.13 350.6) scale(0.9259 1)" font-size="36.2" xml:space="preserve" >y = 4</text>
<text transform="translate(416.73 730.9) scale(0.9309 1)" font-size="36.2" xml:space="preserve" >y = -2</text>
<text transform="translate(769.73 730.9) scale(0.9320 1)" font-size="36.2" xml:space="preserve" >y = -2</text>
<text transform="translate(416.73 1119.7) scale(0.9201 1)" font-size="36.2" xml:space="preserve" >y = -4</text>
</svg>
</body></html>
